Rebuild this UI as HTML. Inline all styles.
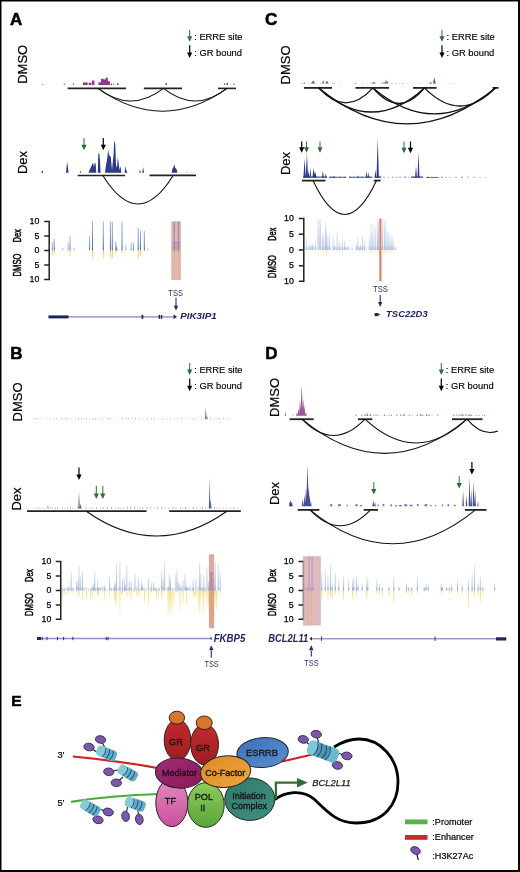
<!DOCTYPE html><html><head><meta charset="utf-8"><style>html,body{margin:0;padding:0;background:#fff;overflow:hidden;}svg{display:block;font-family:"Liberation Sans", sans-serif;will-change:transform;}</style></head><body>
<svg width="520" height="872" viewBox="0 0 520 872">
<rect x="0" y="0" width="520" height="872" fill="#000"/>
<rect x="1.5" y="1.5" width="516.5" height="868.5" fill="#fff"/>
<text x="10.1" y="25.2" font-size="17" font-weight="bold" font-style="normal" text-anchor="start" fill="#000" stroke="#000" stroke-width="0.55">A</text>
<line x1="189.7" y1="29.799999999999997" x2="189.7" y2="36.8" stroke="#2f6c30" stroke-width="1.0"/><path d="M187.1,36.3 L192.29999999999998,36.3 L189.7,41.8 Z" fill="#2f6c30"/><line x1="189.7" y1="45.3" x2="189.7" y2="53.0" stroke="#000" stroke-width="1.2"/><path d="M187.1,52.5 L192.29999999999998,52.5 L189.7,58.0 Z" fill="#000"/><text x="194.2" y="39.8" font-size="9.35" font-weight="normal" font-style="normal" text-anchor="start" fill="#000" stroke="#000" stroke-width="0.15">: ERRE site</text><text x="194.2" y="55.8" font-size="9.35" font-weight="normal" font-style="normal" text-anchor="start" fill="#000" stroke="#000" stroke-width="0.15">: GR bound</text>
<text transform="translate(27,64.3) rotate(-90) scale(1.0,1)" font-size="13" text-anchor="middle" fill="#000" stroke="#000" stroke-width="0.2">DMSO</text>
<text transform="translate(27,162.5) rotate(-90) scale(1.0,1)" font-size="13" text-anchor="middle" fill="#000" stroke="#000" stroke-width="0.2">Dex</text>
<path d="M42.30,84.90V84.00H43.30V84.90ZM63.80,84.90V83.60H64.80V84.90ZM72.80,84.90V83.60H73.80V84.90ZM82.90,84.90V82.60H87.70V84.90ZM88.60,84.90V82.80H91.30V84.90ZM91.90,84.90V80.40H94.40V84.90ZM98.40,84.90V82.30H101.00V84.90ZM101.00,84.90V78.80H103.50V84.90ZM103.50,84.90V79.60H105.60V84.90ZM105.60,84.90V77.80H107.80V84.90ZM107.80,84.90V81.20H110.00V84.90ZM111.00,84.90V83.60H112.00V84.90ZM113.20,84.90V83.80H114.20V84.90ZM117.00,84.90V83.30H118.50V84.90ZM165.50,84.90V83.00H167.00V84.90ZM224.00,84.90V83.50H225.00V84.90ZM226.50,84.90V83.00H228.00V84.90ZM233.50,84.90V83.50H234.50V84.90Z" fill="#8a3a8c" fill-opacity="1"/>
<line x1="67.7" y1="88.4" x2="126" y2="88.4" stroke="#222" stroke-width="1.6"/>
<line x1="143.8" y1="88.4" x2="182" y2="88.4" stroke="#222" stroke-width="1.6"/>
<line x1="218" y1="88.4" x2="236" y2="88.4" stroke="#222" stroke-width="1.6"/>
<path d="M98,88.4 Q130.75,113.60 163.5,88.4" fill="none" stroke="#111" stroke-width="1.1"/>
<path d="M163.5,88.4 Q195.25,113.60 227,88.4" fill="none" stroke="#111" stroke-width="1.1"/>
<path d="M98,88.4 Q162.50,134.00 227,88.4" fill="none" stroke="#111" stroke-width="1.1"/>
<path d="M41.15,172.80L42.25,170.00L43.35,172.80ZM65.95,172.80L67.25,161.50L68.55,172.80ZM79.70,172.80L80.40,170.50L81.10,172.80ZM139.20,172.80L140.00,169.40L140.80,172.80ZM142.20,172.80L143.10,166.90L144.00,172.80ZM186.50,172.80L187.00,171.80L187.50,172.80ZM193.50,172.80L194.00,171.80L194.50,172.80Z" fill="#2b3a8a" fill-opacity="1"/>
<path d="M88.60,172.80L88.60,172.70L89.50,170.00L91.50,166.00L92.50,163.00L93.30,164.00L94.00,167.00L94.80,162.20L95.60,163.50L96.30,172.70L97.80,172.70L98.30,154.00L99.20,152.80L100.00,160.00L100.60,172.70L105.00,172.70L105.50,168.00L107.00,160.00L108.30,149.50L109.00,155.00L110.00,156.00L110.80,157.00L111.50,165.00L112.00,170.00L113.50,155.00L114.30,140.00L115.30,145.00L116.00,165.00L117.00,168.00L117.80,157.00L118.50,162.00L119.50,170.00L120.50,166.00L121.30,172.70L121.30,172.80Z" fill="#2b3a8a" fill-opacity="1"/>
<path d="M124.50,172.80L124.50,172.70L125.30,166.00L126.00,170.00L127.50,172.70L127.50,172.80Z" fill="#2b3a8a" fill-opacity="1"/>
<path d="M171.50,172.80L171.50,172.70L172.50,168.50L173.60,167.00L174.40,164.00L175.20,168.00L176.50,169.00L177.50,172.70L177.50,172.80Z" fill="#2b3a8a" fill-opacity="1"/>
<line x1="84" y1="138" x2="84" y2="145.2" stroke="#2f6c30" stroke-width="1.0"/><path d="M81.4,144.7 L86.6,144.7 L84,150.2 Z" fill="#2f6c30"/>
<line x1="103.3" y1="138" x2="103.3" y2="145.2" stroke="#000" stroke-width="1.2"/><path d="M100.7,144.7 L105.89999999999999,144.7 L103.3,150.2 Z" fill="#000"/>
<line x1="77.7" y1="175.5" x2="125" y2="175.5" stroke="#222" stroke-width="1.7"/>
<line x1="149.5" y1="175.3" x2="196" y2="175.3" stroke="#222" stroke-width="1.7"/>
<path d="M103,175.8 Q138.00,232.20 173,175.8" fill="none" stroke="#111" stroke-width="1.1"/>
<defs><linearGradient id="gb" x1="0" y1="0" x2="0" y2="1"><stop offset="0" stop-color="#9fb4dc"/><stop offset="0.6" stop-color="#6f8cc4"/><stop offset="1" stop-color="#3f5fa6"/></linearGradient><linearGradient id="gbl" x1="0" y1="0" x2="0" y2="1"><stop offset="0" stop-color="#dfe7f4"/><stop offset="1" stop-color="#a3b7de"/></linearGradient><linearGradient id="gbB" x1="0" y1="0" x2="0" y2="1"><stop offset="0" stop-color="#d8e2f2"/><stop offset="1" stop-color="#90a8d6"/></linearGradient><linearGradient id="gy2" x1="0" y1="0" x2="0" y2="1"><stop offset="0" stop-color="#f2d860"/><stop offset="1" stop-color="#faf2c8"/></linearGradient><linearGradient id="gy" x1="0" y1="0" x2="0" y2="1"><stop offset="0" stop-color="#e9c13a"/><stop offset="1" stop-color="#f6e6a0"/></linearGradient></defs>
<path d="M44.2,221.5 H49.2 V279.6 H44.2" fill="none" stroke="#222" stroke-width="1.5"/><text x="39.4" y="224.1" font-size="8.8" font-weight="normal" font-style="normal" text-anchor="end" fill="#000" stroke="#000" stroke-width="0.25">10</text><line x1="44.2" y1="236.0" x2="49.2" y2="236.0" stroke="#222" stroke-width="1.5"/><text x="39.4" y="238.6" font-size="8.8" font-weight="normal" font-style="normal" text-anchor="end" fill="#000" stroke="#000" stroke-width="0.25">5</text><line x1="44.2" y1="250.5" x2="49.2" y2="250.5" stroke="#222" stroke-width="1.5"/><text x="39.4" y="253.1" font-size="8.8" font-weight="normal" font-style="normal" text-anchor="end" fill="#000" stroke="#000" stroke-width="0.25">0</text><line x1="44.2" y1="265.0" x2="49.2" y2="265.0" stroke="#222" stroke-width="1.5"/><text x="39.4" y="267.6" font-size="8.8" font-weight="normal" font-style="normal" text-anchor="end" fill="#000" stroke="#000" stroke-width="0.25">5</text><text x="39.4" y="282.1" font-size="8.8" font-weight="normal" font-style="normal" text-anchor="end" fill="#000" stroke="#000" stroke-width="0.25">10</text><text transform="translate(20.8,235.7) rotate(-90) scale(0.62,1)" font-size="11.8" text-anchor="middle" fill="#000" stroke="#000" stroke-width="0.5">Dex</text><text transform="translate(20.8,265) rotate(-90) scale(0.645,1)" font-size="11.8" text-anchor="middle" fill="#000" stroke="#000" stroke-width="0.5">DMSO</text>
<rect x="51.80" y="241.80" width="1.0" height="8.70" fill="url(#gb)" fill-opacity="0.8"/><rect x="51.80" y="250.50" width="1.0" height="5.80" fill="url(#gy)" fill-opacity="0.8"/><rect x="53.70" y="238.90" width="1.0" height="11.60" fill="url(#gb)" fill-opacity="1.0"/><rect x="53.70" y="250.50" width="1.0" height="3.48" fill="url(#gy)" fill-opacity="1.0"/><rect x="62.20" y="247.60" width="1.0" height="2.90" fill="url(#gb)" fill-opacity="0.6"/><rect x="67.50" y="241.80" width="1.0" height="8.70" fill="url(#gb)" fill-opacity="0.6"/><rect x="69.50" y="236.00" width="1.0" height="14.50" fill="url(#gb)" fill-opacity="0.9"/><rect x="69.50" y="250.50" width="1.0" height="5.80" fill="url(#gy)" fill-opacity="0.9"/><rect x="73.70" y="247.60" width="1.0" height="2.90" fill="url(#gb)" fill-opacity="0.6"/><rect x="89.10" y="236.00" width="1.0" height="14.50" fill="url(#gb)" fill-opacity="0.9"/><rect x="92.00" y="221.50" width="1.0" height="29.00" fill="url(#gb)" fill-opacity="1.0"/><rect x="92.00" y="250.50" width="1.0" height="8.70" fill="url(#gy)" fill-opacity="1.0"/><rect x="102.80" y="221.50" width="1.0" height="29.00" fill="url(#gb)" fill-opacity="1.0"/><rect x="102.80" y="250.50" width="1.0" height="8.70" fill="url(#gy)" fill-opacity="1.0"/><rect x="109.90" y="221.50" width="1.0" height="29.00" fill="url(#gb)" fill-opacity="1.0"/><rect x="109.90" y="250.50" width="1.0" height="8.70" fill="url(#gy)" fill-opacity="1.0"/><rect x="111.80" y="221.50" width="1.0" height="29.00" fill="url(#gb)" fill-opacity="1.0"/><rect x="111.80" y="250.50" width="1.0" height="8.70" fill="url(#gy)" fill-opacity="1.0"/><rect x="115.30" y="241.80" width="1.0" height="8.70" fill="url(#gb)" fill-opacity="1.0"/><rect x="115.30" y="250.50" width="1.0" height="2.90" fill="url(#gy)" fill-opacity="1.0"/><rect x="116.30" y="246.15" width="1.0" height="4.35" fill="url(#gb)" fill-opacity="1.0"/><rect x="121.50" y="221.50" width="1.0" height="29.00" fill="url(#gb)" fill-opacity="1.0"/><rect x="121.50" y="250.50" width="1.0" height="2.90" fill="url(#gy)" fill-opacity="1.0"/><rect x="125.30" y="244.70" width="1.0" height="5.80" fill="url(#gb)" fill-opacity="0.7"/><rect x="130.70" y="242.38" width="1.0" height="8.12" fill="url(#gb)" fill-opacity="0.8"/><rect x="133.00" y="242.38" width="1.0" height="8.12" fill="url(#gb)" fill-opacity="0.8"/><rect x="137.70" y="227.88" width="1.0" height="22.62" fill="url(#gb)" fill-opacity="1.0"/><rect x="137.70" y="250.50" width="1.0" height="8.70" fill="url(#gy)" fill-opacity="1.0"/><rect x="140.00" y="230.78" width="1.0" height="19.72" fill="url(#gb)" fill-opacity="1.0"/><rect x="140.00" y="250.50" width="1.0" height="5.80" fill="url(#gy)" fill-opacity="1.0"/><rect x="143.80" y="230.78" width="1.0" height="19.72" fill="url(#gb)" fill-opacity="1.0"/><rect x="147.50" y="247.89" width="1.0" height="2.61" fill="url(#gb)" fill-opacity="0.5"/>
<rect x="171.2" y="221.5" width="9.8" height="58.5" fill="#d8a49c" fill-opacity="0.78"/>
<path d="M173.4,221.5 H175.2 L174.8,250.5 H173.8Z M177.6,221.5 H179.4 L179,250.5 H178Z" fill="#7870a8" fill-opacity="0.55"/>
<rect x="172.5" y="241" width="7.5" height="9.5" fill="#8a78a8" fill-opacity="0.35"/>
<path d="M173.6,250.5 H175 L174.5,280 H174.1Z M177.8,250.5 H179.2 L178.7,280 H178.3Z" fill="#e8a848" fill-opacity="0.4"/>
<text x="175.7" y="296.1" font-size="9.2" font-weight="normal" font-style="normal" text-anchor="middle" fill="#2c3068" textLength="14.7" lengthAdjust="spacingAndGlyphs">TSS</text>
<line x1="176" y1="297.7" x2="176" y2="306.3" stroke="#23295e" stroke-width="1.1"/><path d="M173.8,305.8 L178.2,305.8 L176,310.6 Z" fill="#23295e"/>
<line x1="48.5" y1="316.8" x2="175" y2="316.8" stroke="#a6a8d0" stroke-width="1.7"/>
<rect x="48.5" y="315.4" width="20" height="3" fill="#1f2560"/>
<rect x="141.5" y="314.8" width="1.8" height="4" fill="#1f2560"/>
<rect x="158.6" y="314.8" width="1.4" height="4" fill="#1f2560"/><rect x="160.8" y="314.8" width="1.4" height="4" fill="#1f2560"/>
<path d="M173.6,314.4 L177,316.8 L173.6,319.2Z" fill="#1f2560"/>
<text x="180.3" y="319" font-size="9.5" font-weight="bold" font-style="italic" text-anchor="start" fill="#1f2560" textLength="36.3" lengthAdjust="spacingAndGlyphs">PIK3IP1</text>
<text x="265.1" y="25.2" font-size="17" font-weight="bold" font-style="normal" text-anchor="start" fill="#000" stroke="#000" stroke-width="0.55">C</text>
<line x1="442" y1="29.799999999999997" x2="442" y2="36.8" stroke="#2f6c30" stroke-width="1.0"/><path d="M439.4,36.3 L444.6,36.3 L442,41.8 Z" fill="#2f6c30"/><line x1="442" y1="45.3" x2="442" y2="53.0" stroke="#000" stroke-width="1.2"/><path d="M439.4,52.5 L444.6,52.5 L442,58.0 Z" fill="#000"/><text x="446.5" y="39.8" font-size="9.35" font-weight="normal" font-style="normal" text-anchor="start" fill="#000" stroke="#000" stroke-width="0.15">: ERRE site</text><text x="446.5" y="55.8" font-size="9.35" font-weight="normal" font-style="normal" text-anchor="start" fill="#000" stroke="#000" stroke-width="0.15">: GR bound</text>
<text transform="translate(290,65) rotate(-90) scale(1.0,1)" font-size="13" text-anchor="middle" fill="#000" stroke="#000" stroke-width="0.2">DMSO</text>
<text transform="translate(290,163.5) rotate(-90) scale(1.0,1)" font-size="13" text-anchor="middle" fill="#000" stroke="#000" stroke-width="0.2">Dex</text>
<path d="M301.40,83.60L302.20,82.80L303.00,83.60ZM303.60,83.60L304.50,82.00L305.40,83.60ZM308.60,83.60L309.20,82.80L309.80,83.60ZM311.00,83.60L313.20,80.50L315.40,83.60ZM319.90,83.60L320.50,82.80L321.10,83.60ZM322.10,83.60L323.10,79.80L324.10,83.60ZM325.20,83.60L327.00,80.80L328.80,83.60ZM331.10,83.60L333.30,83.00L335.50,83.60ZM339.00,83.60L339.50,83.00L340.00,83.60ZM354.30,83.60L355.50,82.80L356.70,83.60ZM362.00,83.60L362.50,83.00L363.00,83.60ZM367.20,83.60L367.70,83.00L368.20,83.60ZM371.00,83.60L373.70,82.00L376.40,83.60ZM380.70,83.60L381.50,82.50L382.30,83.60ZM383.00,83.60L384.00,81.50L385.00,83.60ZM385.00,83.60L386.00,79.20L387.00,83.60ZM386.60,83.60L387.50,81.00L388.40,83.60ZM390.80,83.60L392.00,83.00L393.20,83.60ZM395.00,83.60L396.00,83.00L397.00,83.60ZM401.70,83.60L402.60,82.80L403.50,83.60ZM412.80,83.60L413.50,83.00L414.20,83.60ZM419.20,83.60L420.00,83.00L420.80,83.60ZM428.70,83.60L430.50,82.00L432.30,83.60ZM432.80,83.60L434.30,77.20L435.80,83.60ZM444.40,83.60L445.00,83.00L445.60,83.60ZM449.40,83.60L450.00,83.00L450.60,83.60ZM453.50,83.60L454.00,83.00L454.50,83.60Z" fill="#8a3a8c" fill-opacity="0.95"/>
<line x1="304" y1="87.9" x2="332" y2="87.9" stroke="#222" stroke-width="1.8"/>
<line x1="355.5" y1="87.9" x2="389" y2="87.9" stroke="#222" stroke-width="1.8"/>
<line x1="413" y1="87.9" x2="436.6" y2="87.9" stroke="#222" stroke-width="1.8"/>
<line x1="492.5" y1="87.9" x2="498.5" y2="87.9" stroke="#222" stroke-width="1.8"/>
<path d="M318.7,87.9 Q345.85,117.70 373,87.9" fill="none" stroke="#111" stroke-width="1.3"/>
<path d="M373,87.9 Q398.75,119.10 424.5,87.9" fill="none" stroke="#111" stroke-width="1.3"/>
<path d="M424.5,87.9 Q460.00,124.10 495.5,87.9" fill="none" stroke="#111" stroke-width="1.3"/>
<path d="M318.7,87.9 Q371.60,136.10 424.5,87.9" fill="none" stroke="#111" stroke-width="1.3"/>
<path d="M373,87.9 Q434.25,139.70 495.5,87.9" fill="none" stroke="#111" stroke-width="1.3"/>
<path d="M318.7,87.9 Q407.10,159.70 495.5,87.9" fill="none" stroke="#111" stroke-width="1.3"/>
<path d="M303.40,177.80L304.60,158.80L305.80,177.80ZM305.70,177.80L306.90,153.00L308.10,177.80ZM307.70,177.80L308.50,170.00L309.30,177.80ZM309.50,177.80L310.40,168.00L311.30,177.80ZM312.40,177.80L313.50,168.00L314.60,177.80ZM313.40,177.80L315.00,171.00L316.60,177.80ZM321.90,177.80L322.90,170.80L323.90,177.80ZM325.00,177.80L325.80,173.00L326.60,177.80ZM330.00,177.80L331.00,176.00L332.00,177.80ZM332.80,177.80L334.00,175.80L335.20,177.80ZM339.20,177.80L340.00,176.50L340.80,177.80ZM344.20,177.80L345.00,176.30L345.80,177.80ZM349.20,177.80L350.00,175.80L350.80,177.80ZM353.40,177.80L354.00,176.50L354.60,177.80ZM357.10,177.80L358.00,175.30L358.90,177.80ZM361.20,177.80L362.00,176.00L362.80,177.80ZM365.60,177.80L366.50,171.30L367.40,177.80ZM367.50,177.80L368.30,172.00L369.10,177.80ZM369.40,177.80L370.00,175.00L370.60,177.80ZM374.50,177.80L375.40,169.40L376.30,177.80ZM376.50,177.80L377.70,138.10L378.90,177.80ZM379.40,177.80L380.00,175.00L380.60,177.80ZM383.40,177.80L384.00,176.50L384.60,177.80ZM387.50,177.80L388.00,176.80L388.50,177.80ZM392.40,177.80L393.00,176.30L393.60,177.80ZM396.50,177.80L397.00,176.50L397.50,177.80ZM399.40,177.80L400.00,176.00L400.60,177.80ZM404.30,177.80L405.00,175.80L405.70,177.80ZM408.50,177.80L409.00,176.50L409.50,177.80ZM412.40,177.80L413.00,176.00L413.60,177.80ZM415.00,177.80L416.00,166.00L417.00,177.80ZM417.50,177.80L418.50,152.00L419.50,177.80ZM420.40,177.80L421.00,176.00L421.60,177.80ZM427.10,177.80L428.00,176.00L428.90,177.80ZM431.30,177.80L432.00,176.30L432.70,177.80ZM435.40,177.80L436.00,176.50L436.60,177.80ZM441.20,177.80L442.00,176.20L442.80,177.80ZM445.40,177.80L446.00,176.60L446.60,177.80ZM449.40,177.80L450.00,176.40L450.60,177.80ZM455.40,177.80L456.00,176.60L456.60,177.80ZM461.20,177.80L462.00,176.30L462.80,177.80ZM467.50,177.80L468.00,176.60L468.50,177.80ZM473.40,177.80L474.00,176.50L474.60,177.80ZM479.50,177.80L480.00,176.70L480.50,177.80ZM485.50,177.80L486.00,176.70L486.50,177.80Z" fill="#2b3a8a" fill-opacity="1"/>
<path d="M303.00,177.80V176.60H327.00V177.80ZM329.00,177.80V176.70H346.00V177.80ZM349.50,177.80V176.80H372.50V177.80ZM375.00,177.80V176.60H381.00V177.80ZM411.00,177.80V176.60H423.00V177.80ZM426.00,177.80V177.00H439.00V177.80Z" fill="#2b3a8a" fill-opacity="0.85"/>
<line x1="301.7" y1="141.5" x2="301.7" y2="147.7" stroke="#000" stroke-width="1.2"/><path d="M299.09999999999997,147.2 L304.3,147.2 L301.7,152.7 Z" fill="#000"/>
<line x1="306.5" y1="141.5" x2="306.5" y2="147.7" stroke="#2f6c30" stroke-width="1.0"/><path d="M303.9,147.2 L309.1,147.2 L306.5,152.7 Z" fill="#2f6c30"/>
<line x1="320" y1="141.5" x2="320" y2="147.7" stroke="#2f6c30" stroke-width="1.0"/><path d="M317.4,147.2 L322.6,147.2 L320,152.7 Z" fill="#2f6c30"/>
<line x1="404" y1="141.5" x2="404" y2="148.2" stroke="#2f6c30" stroke-width="1.0"/><path d="M401.4,147.7 L406.6,147.7 L404,153.2 Z" fill="#2f6c30"/>
<line x1="410.5" y1="141.5" x2="410.5" y2="148.2" stroke="#000" stroke-width="1.2"/><path d="M407.9,147.7 L413.1,147.7 L410.5,153.2 Z" fill="#000"/>
<line x1="302" y1="180.6" x2="325.5" y2="180.6" stroke="#222" stroke-width="1.8"/>
<line x1="373.8" y1="180.6" x2="380.6" y2="180.6" stroke="#222" stroke-width="1.8"/>
<path d="M313,180.6 Q344.75,248.40 376.5,180.6" fill="none" stroke="#111" stroke-width="1.1"/>
<text x="10.3" y="358.9" font-size="17" font-weight="bold" font-style="normal" text-anchor="start" fill="#000" stroke="#000" stroke-width="0.55">B</text>
<line x1="189.7" y1="363" x2="189.7" y2="370.0" stroke="#2f6c30" stroke-width="1.0"/><path d="M187.1,369.5 L192.29999999999998,369.5 L189.7,375 Z" fill="#2f6c30"/><line x1="189.7" y1="378.5" x2="189.7" y2="386.2" stroke="#000" stroke-width="1.2"/><path d="M187.1,385.7 L192.29999999999998,385.7 L189.7,391.2 Z" fill="#000"/><text x="194.2" y="373" font-size="9.35" font-weight="normal" font-style="normal" text-anchor="start" fill="#000" stroke="#000" stroke-width="0.15">: ERRE site</text><text x="194.2" y="389" font-size="9.35" font-weight="normal" font-style="normal" text-anchor="start" fill="#000" stroke="#000" stroke-width="0.15">: GR bound</text>
<text transform="translate(21.5,402) rotate(-90) scale(1.0,1)" font-size="13" text-anchor="middle" fill="#000" stroke="#000" stroke-width="0.2">DMSO</text>
<text transform="translate(21.4,499) rotate(-90) scale(1.0,1)" font-size="13" text-anchor="middle" fill="#000" stroke="#000" stroke-width="0.2">Dex</text>
<path d="M33.50,419.20L34.00,418.28L34.50,419.20ZM35.88,419.20L36.38,417.85L36.88,419.20ZM38.06,419.20L38.56,418.00L39.06,419.20ZM40.97,419.20L41.47,418.62L41.97,419.20ZM44.24,419.20L44.74,418.65L45.24,419.20ZM47.33,419.20L47.83,418.61L48.33,419.20ZM49.55,419.20L50.05,418.15L50.55,419.20ZM53.62,419.20L54.12,418.54L54.62,419.20ZM56.18,419.20L56.68,417.88L57.18,419.20ZM60.55,419.20L61.05,417.95L61.55,419.20ZM63.54,419.20L64.04,417.43L64.54,419.20ZM65.65,419.20L66.15,417.58L66.65,419.20ZM68.38,419.20L68.88,418.51L69.38,419.20ZM70.67,419.20L71.17,418.30L71.67,419.20ZM74.71,419.20L75.21,418.47L75.71,419.20ZM78.17,419.20L78.67,417.87L79.17,419.20ZM81.10,419.20L81.60,417.99L82.10,419.20ZM83.26,419.20L83.76,418.62L84.26,419.20ZM85.77,419.20L86.27,417.82L86.77,419.20ZM88.84,419.20L89.34,418.29L89.84,419.20ZM92.30,419.20L92.80,418.11L93.30,419.20ZM95.05,419.20L95.55,417.67L96.05,419.20ZM98.80,419.20L99.30,418.38L99.80,419.20ZM102.24,419.20L102.74,418.02L103.24,419.20ZM106.42,419.20L106.92,417.75L107.42,419.20ZM109.14,419.20L109.64,417.43L110.14,419.20ZM111.44,419.20L111.94,418.16L112.44,419.20ZM115.33,419.20L115.83,418.50L116.33,419.20ZM118.55,419.20L119.05,418.65L119.55,419.20ZM122.22,419.20L122.72,417.71L123.22,419.20ZM125.66,419.20L126.16,417.56L126.66,419.20ZM128.44,419.20L128.94,417.80L129.44,419.20ZM131.93,419.20L132.43,417.95L132.93,419.20ZM135.07,419.20L135.57,417.61L136.07,419.20ZM139.43,419.20L139.93,418.08L140.43,419.20ZM143.09,419.20L143.59,418.62L144.09,419.20ZM146.84,419.20L147.34,417.86L147.84,419.20ZM151.33,419.20L151.83,417.63L152.33,419.20ZM154.04,419.20L154.54,418.20L155.04,419.20ZM157.71,419.20L158.21,418.67L158.71,419.20ZM160.86,419.20L161.36,418.48L161.86,419.20ZM163.16,419.20L163.66,418.62L164.16,419.20ZM167.08,419.20L167.58,418.53L168.08,419.20ZM169.70,419.20L170.20,418.19L170.70,419.20ZM173.87,419.20L174.37,418.60L174.87,419.20ZM177.00,419.20L177.50,417.99L178.00,419.20ZM181.21,419.20L181.71,417.63L182.21,419.20ZM185.37,419.20L185.87,418.34L186.37,419.20ZM188.40,419.20L188.90,418.23L189.40,419.20ZM192.62,419.20L193.12,417.45L193.62,419.20ZM194.99,419.20L195.49,418.47L195.99,419.20ZM197.57,419.20L198.07,418.40L198.57,419.20ZM200.78,419.20L201.28,417.93L201.78,419.20ZM203.44,419.20L203.94,418.69L204.44,419.20ZM206.49,419.20L206.99,418.22L207.49,419.20ZM209.90,419.20L210.40,417.46L210.90,419.20ZM213.63,419.20L214.13,418.03L214.63,419.20ZM217.17,419.20L217.67,417.82L218.17,419.20ZM219.31,419.20L219.81,417.53L220.31,419.20ZM223.26,419.20L223.76,417.56L224.26,419.20ZM227.25,419.20L227.75,418.19L228.25,419.20ZM230.25,419.20L230.75,418.57L231.25,419.20ZM204.80,419.20L205.70,407.40L206.60,419.20ZM206.20,419.20L207.00,415.00L207.80,419.20Z" fill="#8a3a8c" fill-opacity="0.75"/>
<path d="M33.50,508.40L34.00,507.79L34.50,508.40ZM35.67,508.40L36.17,507.55L36.67,508.40ZM38.07,508.40L38.57,507.32L39.07,508.40ZM40.21,508.40L40.71,507.90L41.21,508.40ZM42.58,508.40L43.08,507.73L43.58,508.40ZM45.49,508.40L45.99,507.86L46.49,508.40ZM49.68,508.40L50.18,506.86L50.68,508.40ZM52.05,508.40L52.55,507.47L53.05,508.40ZM54.92,508.40L55.42,507.28L55.92,508.40ZM57.23,508.40L57.73,506.46L58.23,508.40ZM61.71,508.40L62.21,507.11L62.71,508.40ZM64.92,508.40L65.42,507.75L65.92,508.40ZM67.17,508.40L67.67,507.32L68.17,508.40ZM69.84,508.40L70.34,506.49L70.84,508.40ZM72.24,508.40L72.74,507.86L73.24,508.40ZM76.62,508.40L77.12,507.00L77.62,508.40ZM78.98,508.40L79.48,506.98L79.98,508.40ZM81.05,508.40L81.55,507.00L82.05,508.40ZM85.50,508.40L86.00,506.43L86.50,508.40ZM89.24,508.40L89.74,507.46L90.24,508.40ZM92.15,508.40L92.65,507.62L93.15,508.40ZM96.08,508.40L96.58,506.99L97.08,508.40ZM100.03,508.40L100.53,507.34L101.03,508.40ZM102.59,508.40L103.09,506.52L103.59,508.40ZM107.05,508.40L107.55,506.45L108.05,508.40ZM111.07,508.40L111.57,506.51L112.07,508.40ZM114.92,508.40L115.42,507.51L115.92,508.40ZM118.21,508.40L118.71,507.30L119.21,508.40ZM120.28,508.40L120.78,507.85L121.28,508.40ZM122.98,508.40L123.48,507.46L123.98,508.40ZM126.71,508.40L127.21,506.27L127.71,508.40ZM129.83,508.40L130.33,506.31L130.83,508.40ZM134.30,508.40L134.80,506.28L135.30,508.40ZM137.21,508.40L137.71,507.53L138.21,508.40ZM139.78,508.40L140.28,507.57L140.78,508.40ZM142.29,508.40L142.79,506.84L143.29,508.40ZM146.54,508.40L147.04,506.47L147.54,508.40ZM149.74,508.40L150.24,506.79L150.74,508.40ZM153.74,508.40L154.24,507.76L154.74,508.40ZM157.39,508.40L157.89,506.35L158.39,508.40ZM161.35,508.40L161.85,506.62L162.35,508.40ZM164.54,508.40L165.04,507.60L165.54,508.40ZM168.51,508.40L169.01,507.33L169.51,508.40ZM172.52,508.40L173.02,506.25L173.52,508.40ZM175.51,508.40L176.01,507.22L176.51,508.40ZM179.87,508.40L180.37,506.67L180.87,508.40ZM182.30,508.40L182.80,507.68L183.30,508.40ZM184.68,508.40L185.18,506.36L185.68,508.40ZM188.69,508.40L189.19,507.65L189.69,508.40ZM192.76,508.40L193.26,506.23L193.76,508.40ZM196.40,508.40L196.90,507.30L197.40,508.40ZM199.77,508.40L200.27,507.68L200.77,508.40ZM201.81,508.40L202.31,506.25L202.81,508.40ZM205.43,508.40L205.93,507.00L206.43,508.40ZM209.77,508.40L210.27,507.16L210.77,508.40ZM213.95,508.40L214.45,506.50L214.95,508.40ZM216.47,508.40L216.97,507.47L217.47,508.40ZM219.21,508.40L219.71,507.49L220.21,508.40ZM222.67,508.40L223.17,507.46L223.67,508.40ZM225.72,508.40L226.22,507.68L226.72,508.40ZM229.99,508.40L230.49,507.30L230.99,508.40ZM233.14,508.40L233.64,506.91L234.14,508.40ZM237.40,508.40L237.90,507.18L238.40,508.40ZM78.20,508.40L79.00,491.70L79.80,508.40ZM79.70,508.40L80.50,503.00L81.30,508.40ZM47.50,508.40L48.00,504.50L48.50,508.40ZM208.80,508.40L209.60,478.00L210.40,508.40ZM209.60,508.40L210.60,500.00L211.60,508.40Z" fill="#2b3a8a" fill-opacity="0.8"/>
<line x1="79" y1="467.4" x2="79" y2="475.1" stroke="#000" stroke-width="1.2"/><path d="M76.4,474.6 L81.6,474.6 L79,480.1 Z" fill="#000"/>
<line x1="96.3" y1="485.8" x2="96.3" y2="494.1" stroke="#2f6c30" stroke-width="1.0"/><path d="M93.7,493.6 L98.89999999999999,493.6 L96.3,499.1 Z" fill="#2f6c30"/>
<line x1="102.8" y1="485.8" x2="102.8" y2="494.1" stroke="#2f6c30" stroke-width="1.0"/><path d="M100.2,493.6 L105.39999999999999,493.6 L102.8,499.1 Z" fill="#2f6c30"/>
<line x1="27" y1="511.2" x2="146.6" y2="511.2" stroke="#222" stroke-width="1.8"/>
<line x1="169.2" y1="511.2" x2="240.8" y2="511.2" stroke="#222" stroke-width="1.8"/>
<path d="M86.3,511.2 Q156.60,560.80 226.9,511.2" fill="none" stroke="#111" stroke-width="1.1"/>
<text x="265.2" y="358.7" font-size="17" font-weight="bold" font-style="normal" text-anchor="start" fill="#000" stroke="#000" stroke-width="0.55">D</text>
<line x1="441.3" y1="363" x2="441.3" y2="370.0" stroke="#2f6c30" stroke-width="1.0"/><path d="M438.7,369.5 L443.90000000000003,369.5 L441.3,375 Z" fill="#2f6c30"/><line x1="441.3" y1="378.5" x2="441.3" y2="386.2" stroke="#000" stroke-width="1.2"/><path d="M438.7,385.7 L443.90000000000003,385.7 L441.3,391.2 Z" fill="#000"/><text x="445.8" y="373" font-size="9.35" font-weight="normal" font-style="normal" text-anchor="start" fill="#000" stroke="#000" stroke-width="0.15">: ERRE site</text><text x="445.8" y="389" font-size="9.35" font-weight="normal" font-style="normal" text-anchor="start" fill="#000" stroke="#000" stroke-width="0.15">: GR bound</text>
<text transform="translate(279,397.5) rotate(-90) scale(1.0,1)" font-size="13" text-anchor="middle" fill="#000" stroke="#000" stroke-width="0.2">DMSO</text>
<text transform="translate(279,493.5) rotate(-90) scale(1.0,1)" font-size="13" text-anchor="middle" fill="#000" stroke="#000" stroke-width="0.2">Dex</text>
<path d="M284.70,415.80L285.40,411.70L286.10,415.80ZM292.50,415.80L293.00,414.50L293.50,415.80ZM296.10,415.80L297.00,412.00L297.90,415.80ZM297.60,415.80L298.50,408.00L299.40,415.80ZM299.00,415.80L300.00,400.00L301.00,415.80ZM300.40,415.80L301.70,384.80L303.00,415.80ZM302.30,415.80L303.30,398.00L304.30,415.80ZM303.60,415.80L304.50,405.00L305.40,415.80ZM305.20,415.80L306.00,412.00L306.80,415.80ZM355.22,415.80L356.00,414.33L356.78,415.80ZM360.94,415.80L361.70,414.31L362.45,415.80ZM365.29,415.80L366.05,414.79L366.80,415.80ZM370.02,415.80L370.57,413.75L371.11,415.80ZM372.87,415.80L373.78,414.95L374.68,415.80ZM377.56,415.80L378.55,415.03L379.54,415.80ZM383.60,415.80L384.41,413.99L385.22,415.80ZM386.28,415.80L387.04,415.07L387.81,415.80ZM388.66,415.80L389.28,414.78L389.90,415.80ZM390.68,415.80L391.40,414.31L392.12,415.80ZM395.95,415.80L396.77,414.22L397.59,415.80ZM400.04,415.80L400.77,413.97L401.50,415.80ZM402.88,415.80L403.88,413.40L404.88,415.80ZM408.59,415.80L409.24,413.90L409.90,415.80ZM411.63,415.80L412.16,414.61L412.70,415.80ZM416.30,415.80L417.23,414.42L418.15,415.80ZM419.85,415.80L420.77,413.47L421.70,415.80ZM421.82,415.80L422.78,414.74L423.73,415.80ZM425.96,415.80L426.66,413.43L427.35,415.80ZM428.06,415.80L428.95,414.03L429.84,415.80ZM431.36,415.80L432.03,414.95L432.69,415.80ZM437.32,415.80L437.88,413.81L438.44,415.80ZM452.69,415.80L453.41,414.15L454.13,415.80ZM455.61,415.80L456.17,413.86L456.74,415.80ZM460.04,415.80L460.75,414.90L461.46,415.80ZM462.61,415.80L463.60,414.64L464.59,415.80ZM467.87,415.80L468.81,414.58L469.76,415.80ZM470.73,415.80L471.66,414.43L472.58,415.80ZM475.23,415.80L476.22,414.93L477.22,415.80ZM478.19,415.80L479.08,414.66L479.96,415.80ZM481.86,415.80L482.39,414.60L482.93,415.80ZM484.13,415.80L484.75,414.11L485.37,415.80ZM364.40,415.80L365.00,413.00L365.60,415.80ZM366.80,415.80L367.50,412.50L368.20,415.80ZM369.40,415.80L370.00,413.20L370.60,415.80ZM375.40,415.80L376.00,413.60L376.60,415.80ZM458.40,415.80L459.00,413.50L459.60,415.80ZM461.30,415.80L462.00,412.50L462.70,415.80ZM465.40,415.80L466.00,413.00L466.60,415.80ZM469.40,415.80L470.00,413.50L470.60,415.80Z" fill="#8a3a8c" fill-opacity="0.85"/>
<line x1="289.6" y1="419.2" x2="313.7" y2="419.2" stroke="#222" stroke-width="1.8"/>
<line x1="357.9" y1="419.2" x2="372.3" y2="419.2" stroke="#222" stroke-width="1.8"/>
<line x1="452" y1="419.2" x2="482.5" y2="419.2" stroke="#222" stroke-width="1.8"/>
<path d="M302,419.2 Q333.50,451.80 365,419.2" fill="none" stroke="#111" stroke-width="1.1"/>
<path d="M365,419.2 Q416.00,466.80 467,419.2" fill="none" stroke="#111" stroke-width="1.1"/>
<path d="M302,419.2 Q384.50,487.60 467,419.2" fill="none" stroke="#111" stroke-width="1.1"/>
<path d="M467,419.2 Q482,437 498,431" fill="none" stroke="#111" stroke-width="1.1"/>
<path d="M289.00,506.20V502.50H292.30V506.20ZM330.00,506.20V504.36H332.32V506.20ZM337.98,506.20V504.36H340.87V506.20ZM346.59,506.20V504.75H347.84V506.20ZM355.30,506.20V504.14H357.67V506.20ZM359.87,506.20V505.05H361.91V506.20ZM382.61,506.20V504.12H384.31V506.20ZM390.44,506.20V504.28H391.92V506.20ZM395.13,506.20V505.22H397.44V506.20ZM399.14,506.20V505.11H401.91V506.20ZM404.22,506.20V504.18H407.19V506.20ZM409.66,506.20V504.65H412.59V506.20ZM417.05,506.20V504.08H418.62V506.20ZM424.51,506.20V504.15H427.45V506.20ZM430.00,506.20V505.17H431.85V506.20ZM434.73,506.20V504.98H436.05V506.20ZM441.74,506.20V504.45H442.95V506.20ZM447.43,506.20V504.25H449.19V506.20ZM453.84,506.20V504.73H455.61V506.20Z" fill="#2b3a8a" fill-opacity="0.7"/>
<path d="M289.60,506.20L290.60,499.20L291.60,506.20ZM291.40,506.20L292.00,503.00L292.60,506.20ZM301.70,506.20L302.70,499.00L303.70,506.20ZM303.70,506.20L304.60,494.40L305.50,506.20ZM305.10,506.20L306.00,487.70L306.90,506.20ZM306.20,506.20L307.50,464.60L308.80,506.20ZM307.90,506.20L308.80,485.80L309.70,506.20ZM309.00,506.20L309.80,495.00L310.60,506.20ZM310.40,506.20L311.00,501.00L311.60,506.20ZM372.30,506.20L373.30,500.20L374.30,506.20ZM374.20,506.20L375.00,502.00L375.80,506.20ZM377.40,506.20L378.00,503.00L378.60,506.20ZM462.30,506.20L463.10,490.80L463.90,506.20ZM465.70,506.20L466.50,495.40L467.30,506.20ZM468.60,506.20L469.50,476.90L470.40,506.20ZM470.40,506.20L471.20,489.60L472.00,506.20ZM472.60,506.20L473.50,480.40L474.40,506.20ZM474.30,506.20L475.10,489.60L475.90,506.20ZM477.30,506.20L478.00,501.20L478.70,506.20Z" fill="#2b3a8a" fill-opacity="0.9"/>
<line x1="373.8" y1="482" x2="373.8" y2="489.4" stroke="#2f6c30" stroke-width="1.0"/><path d="M371.2,488.9 L376.40000000000003,488.9 L373.8,494.4 Z" fill="#2f6c30"/>
<line x1="459.2" y1="476.2" x2="459.2" y2="483.5" stroke="#2f6c30" stroke-width="1.0"/><path d="M456.59999999999997,483.0 L461.8,483.0 L459.2,488.5 Z" fill="#2f6c30"/>
<line x1="471.9" y1="461.9" x2="471.9" y2="469.6" stroke="#000" stroke-width="1.2"/><path d="M469.29999999999995,469.1 L474.5,469.1 L471.9,474.6 Z" fill="#000"/>
<line x1="297.7" y1="509.9" x2="319.4" y2="509.9" stroke="#222" stroke-width="1.8"/>
<line x1="363.7" y1="509.9" x2="378" y2="509.9" stroke="#222" stroke-width="1.8"/>
<line x1="464.9" y1="509.9" x2="486.6" y2="509.9" stroke="#222" stroke-width="1.8"/>
<path d="M310,509.9 Q340.25,541.70 370.5,509.9" fill="none" stroke="#111" stroke-width="1.1"/>
<path d="M310,509.9 Q392.75,577.70 475.5,509.9" fill="none" stroke="#111" stroke-width="1.1"/>
<path d="M55.75,561.5 H60.75 V619.2 H55.75" fill="none" stroke="#222" stroke-width="1.5"/><text x="51.3" y="564.1" font-size="8.8" font-weight="normal" font-style="normal" text-anchor="end" fill="#000" stroke="#000" stroke-width="0.25">10</text><line x1="55.75" y1="576.0" x2="60.75" y2="576.0" stroke="#222" stroke-width="1.5"/><text x="51.3" y="578.6" font-size="8.8" font-weight="normal" font-style="normal" text-anchor="end" fill="#000" stroke="#000" stroke-width="0.25">5</text><line x1="55.75" y1="590.5" x2="60.75" y2="590.5" stroke="#222" stroke-width="1.5"/><text x="51.3" y="593.1" font-size="8.8" font-weight="normal" font-style="normal" text-anchor="end" fill="#000" stroke="#000" stroke-width="0.25">0</text><line x1="55.75" y1="605.0" x2="60.75" y2="605.0" stroke="#222" stroke-width="1.5"/><text x="51.3" y="607.6" font-size="8.8" font-weight="normal" font-style="normal" text-anchor="end" fill="#000" stroke="#000" stroke-width="0.25">5</text><text x="51.3" y="622.1" font-size="8.8" font-weight="normal" font-style="normal" text-anchor="end" fill="#000" stroke="#000" stroke-width="0.25">10</text><text transform="translate(32.8,575.5) rotate(-90) scale(0.62,1)" font-size="11.8" text-anchor="middle" fill="#000" stroke="#000" stroke-width="0.5">Dex</text><text transform="translate(32.8,604.5) rotate(-90) scale(0.645,1)" font-size="11.8" text-anchor="middle" fill="#000" stroke="#000" stroke-width="0.5">DMSO</text>
<rect x="62.05" y="588.62" width="0.9" height="1.88" fill="url(#gbB)"/><rect x="62.05" y="590.5" width="0.9" height="11.21" fill="url(#gy2)"/><rect x="61.90" y="587.6" width="1.6" height="2.9" fill="#7d98cc" fill-opacity="0.3"/><rect x="63.78" y="588.32" width="0.9" height="2.18" fill="url(#gbB)"/><rect x="63.78" y="590.5" width="0.9" height="5.13" fill="url(#gy2)"/><rect x="63.63" y="587.6" width="1.6" height="2.9" fill="#7d98cc" fill-opacity="0.3"/><rect x="65.70" y="587.6" width="1.6" height="2.9" fill="#7d98cc" fill-opacity="0.3"/><rect x="67.69" y="584.95" width="0.9" height="5.55" fill="url(#gbB)"/><rect x="67.69" y="590.5" width="0.9" height="4.41" fill="url(#gy2)"/><rect x="67.54" y="587.6" width="1.6" height="2.9" fill="#7d98cc" fill-opacity="0.3"/><rect x="68.92" y="587.34" width="0.9" height="3.16" fill="url(#gbB)"/><rect x="70.67" y="571.87" width="0.9" height="18.63" fill="url(#gbB)"/><rect x="70.67" y="590.5" width="0.9" height="2.07" fill="url(#gy2)"/><rect x="70.52" y="587.6" width="1.6" height="2.9" fill="#7d98cc" fill-opacity="0.3"/><rect x="72.12" y="590.5" width="0.9" height="3.33" fill="url(#gy2)"/><rect x="71.97" y="587.6" width="1.6" height="2.9" fill="#7d98cc" fill-opacity="0.3"/><rect x="72.99" y="587.6" width="1.6" height="2.9" fill="#7d98cc" fill-opacity="0.3"/><rect x="76.14" y="581.31" width="0.9" height="9.19" fill="url(#gbB)"/><rect x="76.14" y="590.5" width="0.9" height="3.00" fill="url(#gy2)"/><rect x="77.48" y="580.28" width="0.9" height="10.22" fill="url(#gbB)"/><rect x="77.33" y="587.6" width="1.6" height="2.9" fill="#7d98cc" fill-opacity="0.3"/><rect x="78.52" y="565.09" width="0.9" height="25.41" fill="url(#gbB)"/><rect x="78.52" y="590.5" width="0.9" height="7.93" fill="url(#gy2)"/><rect x="78.37" y="587.6" width="1.6" height="2.9" fill="#7d98cc" fill-opacity="0.3"/><rect x="80.30" y="576.09" width="0.9" height="14.41" fill="url(#gbB)"/><rect x="80.15" y="587.6" width="1.6" height="2.9" fill="#7d98cc" fill-opacity="0.3"/><rect x="82.17" y="571.10" width="0.9" height="19.40" fill="url(#gbB)"/><rect x="82.17" y="590.5" width="0.9" height="9.58" fill="url(#gy2)"/><rect x="82.02" y="587.6" width="1.6" height="2.9" fill="#7d98cc" fill-opacity="0.3"/><rect x="84.22" y="586.92" width="0.9" height="3.58" fill="url(#gbB)"/><rect x="85.98" y="590.5" width="0.9" height="7.57" fill="url(#gy2)"/><rect x="85.83" y="587.6" width="1.6" height="2.9" fill="#7d98cc" fill-opacity="0.3"/><rect x="88.01" y="588.51" width="0.9" height="1.99" fill="url(#gbB)"/><rect x="90.00" y="589.63" width="0.9" height="0.87" fill="url(#gbB)"/><rect x="90.00" y="590.5" width="0.9" height="9.51" fill="url(#gy2)"/><rect x="89.85" y="587.6" width="1.6" height="2.9" fill="#7d98cc" fill-opacity="0.3"/><rect x="91.70" y="585.16" width="0.9" height="5.34" fill="url(#gbB)"/><rect x="91.70" y="590.5" width="0.9" height="7.09" fill="url(#gy2)"/><rect x="91.55" y="587.6" width="1.6" height="2.9" fill="#7d98cc" fill-opacity="0.3"/><rect x="93.00" y="583.51" width="0.9" height="6.99" fill="url(#gbB)"/><rect x="93.00" y="590.5" width="0.9" height="1.77" fill="url(#gy2)"/><rect x="94.31" y="570.96" width="0.9" height="19.54" fill="url(#gbB)"/><rect x="94.16" y="587.6" width="1.6" height="2.9" fill="#7d98cc" fill-opacity="0.3"/><rect x="95.39" y="589.38" width="0.9" height="1.12" fill="url(#gbB)"/><rect x="95.39" y="590.5" width="0.9" height="2.01" fill="url(#gy2)"/><rect x="95.24" y="587.6" width="1.6" height="2.9" fill="#7d98cc" fill-opacity="0.3"/><rect x="97.12" y="580.39" width="0.9" height="10.11" fill="url(#gbB)"/><rect x="97.12" y="590.5" width="0.9" height="4.73" fill="url(#gy2)"/><rect x="98.26" y="587.17" width="0.9" height="3.33" fill="url(#gbB)"/><rect x="98.26" y="590.5" width="0.9" height="5.77" fill="url(#gy2)"/><rect x="98.11" y="587.6" width="1.6" height="2.9" fill="#7d98cc" fill-opacity="0.3"/><rect x="99.74" y="587.44" width="0.9" height="3.06" fill="url(#gbB)"/><rect x="99.59" y="587.6" width="1.6" height="2.9" fill="#7d98cc" fill-opacity="0.3"/><rect x="101.83" y="585.47" width="0.9" height="5.03" fill="url(#gbB)"/><rect x="101.83" y="590.5" width="0.9" height="1.36" fill="url(#gy2)"/><rect x="103.88" y="585.06" width="0.9" height="5.44" fill="url(#gbB)"/><rect x="103.88" y="590.5" width="0.9" height="11.10" fill="url(#gy2)"/><rect x="103.73" y="587.6" width="1.6" height="2.9" fill="#7d98cc" fill-opacity="0.3"/><rect x="105.33" y="587.71" width="0.9" height="2.79" fill="url(#gbB)"/><rect x="107.27" y="590.5" width="0.9" height="1.35" fill="url(#gy2)"/><rect x="109.03" y="576.58" width="0.9" height="13.92" fill="url(#gbB)"/><rect x="109.03" y="590.5" width="0.9" height="5.70" fill="url(#gy2)"/><rect x="108.88" y="587.6" width="1.6" height="2.9" fill="#7d98cc" fill-opacity="0.3"/><rect x="110.82" y="587.82" width="0.9" height="2.68" fill="url(#gbB)"/><rect x="110.67" y="587.6" width="1.6" height="2.9" fill="#7d98cc" fill-opacity="0.3"/><rect x="112.54" y="587.6" width="1.6" height="2.9" fill="#7d98cc" fill-opacity="0.3"/><rect x="113.87" y="582.80" width="0.9" height="7.70" fill="url(#gbB)"/><rect x="113.87" y="590.5" width="0.9" height="10.03" fill="url(#gy2)"/><rect x="113.72" y="587.6" width="1.6" height="2.9" fill="#7d98cc" fill-opacity="0.3"/><rect x="114.91" y="583.33" width="0.9" height="7.17" fill="url(#gbB)"/><rect x="114.91" y="590.5" width="0.9" height="14.54" fill="url(#gy2)"/><rect x="116.16" y="563.59" width="0.9" height="26.91" fill="url(#gbB)"/><rect x="116.16" y="590.5" width="0.9" height="15.51" fill="url(#gy2)"/><rect x="117.79" y="589.14" width="0.9" height="1.36" fill="url(#gbB)"/><rect x="117.64" y="587.6" width="1.6" height="2.9" fill="#7d98cc" fill-opacity="0.3"/><rect x="119.47" y="561.50" width="0.9" height="29.00" fill="url(#gbB)"/><rect x="119.47" y="590.5" width="0.9" height="23.20" fill="url(#gy2)"/><rect x="119.32" y="587.6" width="1.6" height="2.9" fill="#7d98cc" fill-opacity="0.3"/><rect x="120.61" y="590.5" width="0.9" height="4.39" fill="url(#gy2)"/><rect x="121.94" y="577.83" width="0.9" height="12.67" fill="url(#gbB)"/><rect x="121.94" y="590.5" width="0.9" height="4.74" fill="url(#gy2)"/><rect x="121.79" y="587.6" width="1.6" height="2.9" fill="#7d98cc" fill-opacity="0.3"/><rect x="123.88" y="576.63" width="0.9" height="13.87" fill="url(#gbB)"/><rect x="123.88" y="590.5" width="0.9" height="2.34" fill="url(#gy2)"/><rect x="123.73" y="587.6" width="1.6" height="2.9" fill="#7d98cc" fill-opacity="0.3"/><rect x="125.21" y="584.25" width="0.9" height="6.25" fill="url(#gbB)"/><rect x="125.06" y="587.6" width="1.6" height="2.9" fill="#7d98cc" fill-opacity="0.3"/><rect x="126.39" y="564.86" width="0.9" height="25.64" fill="url(#gbB)"/><rect x="126.39" y="590.5" width="0.9" height="8.22" fill="url(#gy2)"/><rect x="127.60" y="588.00" width="0.9" height="2.50" fill="url(#gbB)"/><rect x="128.75" y="579.80" width="0.9" height="10.70" fill="url(#gbB)"/><rect x="128.75" y="590.5" width="0.9" height="6.65" fill="url(#gy2)"/><rect x="128.60" y="587.6" width="1.6" height="2.9" fill="#7d98cc" fill-opacity="0.3"/><rect x="130.62" y="581.03" width="0.9" height="9.47" fill="url(#gbB)"/><rect x="130.62" y="590.5" width="0.9" height="11.00" fill="url(#gy2)"/><rect x="130.47" y="587.6" width="1.6" height="2.9" fill="#7d98cc" fill-opacity="0.3"/><rect x="132.36" y="590.5" width="0.9" height="2.69" fill="url(#gy2)"/><rect x="133.25" y="587.6" width="1.6" height="2.9" fill="#7d98cc" fill-opacity="0.3"/><rect x="134.54" y="572.72" width="0.9" height="17.78" fill="url(#gbB)"/><rect x="134.54" y="590.5" width="0.9" height="1.20" fill="url(#gy2)"/><rect x="136.42" y="587.40" width="0.9" height="3.10" fill="url(#gbB)"/><rect x="136.42" y="590.5" width="0.9" height="7.56" fill="url(#gy2)"/><rect x="137.73" y="576.52" width="0.9" height="13.98" fill="url(#gbB)"/><rect x="137.73" y="590.5" width="0.9" height="3.88" fill="url(#gy2)"/><rect x="139.19" y="590.5" width="0.9" height="7.24" fill="url(#gy2)"/><rect x="139.04" y="587.6" width="1.6" height="2.9" fill="#7d98cc" fill-opacity="0.3"/><rect x="140.96" y="580.81" width="0.9" height="9.69" fill="url(#gbB)"/><rect x="142.23" y="584.74" width="0.9" height="5.76" fill="url(#gbB)"/><rect x="142.08" y="587.6" width="1.6" height="2.9" fill="#7d98cc" fill-opacity="0.3"/><rect x="144.06" y="590.5" width="0.9" height="12.57" fill="url(#gy2)"/><rect x="143.91" y="587.6" width="1.6" height="2.9" fill="#7d98cc" fill-opacity="0.3"/><rect x="145.96" y="588.73" width="0.9" height="1.77" fill="url(#gbB)"/><rect x="147.91" y="578.15" width="0.9" height="12.35" fill="url(#gbB)"/><rect x="147.91" y="590.5" width="0.9" height="18.37" fill="url(#gy2)"/><rect x="149.75" y="590.5" width="0.9" height="5.09" fill="url(#gy2)"/><rect x="149.60" y="587.6" width="1.6" height="2.9" fill="#7d98cc" fill-opacity="0.3"/><rect x="151.03" y="583.07" width="0.9" height="7.43" fill="url(#gbB)"/><rect x="151.03" y="590.5" width="0.9" height="1.96" fill="url(#gy2)"/><rect x="153.00" y="582.58" width="0.9" height="7.92" fill="url(#gbB)"/><rect x="152.85" y="587.6" width="1.6" height="2.9" fill="#7d98cc" fill-opacity="0.3"/><rect x="154.61" y="589.25" width="0.9" height="1.25" fill="url(#gbB)"/><rect x="154.46" y="587.6" width="1.6" height="2.9" fill="#7d98cc" fill-opacity="0.3"/><rect x="155.95" y="588.80" width="0.9" height="1.70" fill="url(#gbB)"/><rect x="155.95" y="590.5" width="0.9" height="9.13" fill="url(#gy2)"/><rect x="155.80" y="587.6" width="1.6" height="2.9" fill="#7d98cc" fill-opacity="0.3"/><rect x="157.84" y="590.5" width="0.9" height="6.41" fill="url(#gy2)"/><rect x="157.69" y="587.6" width="1.6" height="2.9" fill="#7d98cc" fill-opacity="0.3"/><rect x="159.19" y="587.92" width="0.9" height="2.58" fill="url(#gbB)"/><rect x="159.19" y="590.5" width="0.9" height="1.01" fill="url(#gy2)"/><rect x="161.19" y="570.94" width="0.9" height="19.56" fill="url(#gbB)"/><rect x="161.19" y="590.5" width="0.9" height="8.59" fill="url(#gy2)"/><rect x="162.58" y="578.77" width="0.9" height="11.73" fill="url(#gbB)"/><rect x="162.58" y="590.5" width="0.9" height="4.94" fill="url(#gy2)"/><rect x="162.43" y="587.6" width="1.6" height="2.9" fill="#7d98cc" fill-opacity="0.3"/><rect x="163.89" y="561.50" width="0.9" height="29.00" fill="url(#gbB)"/><rect x="165.53" y="587.6" width="1.6" height="2.9" fill="#7d98cc" fill-opacity="0.3"/><rect x="167.65" y="586.31" width="0.9" height="4.19" fill="url(#gbB)"/><rect x="167.65" y="590.5" width="0.9" height="23.20" fill="url(#gy2)"/><rect x="167.50" y="587.6" width="1.6" height="2.9" fill="#7d98cc" fill-opacity="0.3"/><rect x="168.77" y="573.95" width="0.9" height="16.55" fill="url(#gbB)"/><rect x="168.77" y="590.5" width="0.9" height="21.86" fill="url(#gy2)"/><rect x="168.62" y="587.6" width="1.6" height="2.9" fill="#7d98cc" fill-opacity="0.3"/><rect x="169.96" y="577.37" width="0.9" height="13.13" fill="url(#gbB)"/><rect x="169.96" y="590.5" width="0.9" height="23.20" fill="url(#gy2)"/><rect x="171.64" y="587.18" width="0.9" height="3.32" fill="url(#gbB)"/><rect x="171.64" y="590.5" width="0.9" height="20.61" fill="url(#gy2)"/><rect x="173.50" y="590.5" width="0.9" height="13.18" fill="url(#gy2)"/><rect x="173.35" y="587.6" width="1.6" height="2.9" fill="#7d98cc" fill-opacity="0.3"/><rect x="175.45" y="573.20" width="0.9" height="17.30" fill="url(#gbB)"/><rect x="175.45" y="590.5" width="0.9" height="1.70" fill="url(#gy2)"/><rect x="176.64" y="569.90" width="0.9" height="20.60" fill="url(#gbB)"/><rect x="176.64" y="590.5" width="0.9" height="2.81" fill="url(#gy2)"/><rect x="178.00" y="582.13" width="0.9" height="8.37" fill="url(#gbB)"/><rect x="179.53" y="583.90" width="0.9" height="6.60" fill="url(#gbB)"/><rect x="179.53" y="590.5" width="0.9" height="23.20" fill="url(#gy2)"/><rect x="179.38" y="587.6" width="1.6" height="2.9" fill="#7d98cc" fill-opacity="0.3"/><rect x="181.40" y="585.33" width="0.9" height="5.17" fill="url(#gbB)"/><rect x="181.40" y="590.5" width="0.9" height="2.56" fill="url(#gy2)"/><rect x="182.63" y="579.96" width="0.9" height="10.54" fill="url(#gbB)"/><rect x="182.63" y="590.5" width="0.9" height="15.96" fill="url(#gy2)"/><rect x="184.60" y="573.42" width="0.9" height="17.08" fill="url(#gbB)"/><rect x="184.45" y="587.6" width="1.6" height="2.9" fill="#7d98cc" fill-opacity="0.3"/><rect x="186.06" y="585.68" width="0.9" height="4.82" fill="url(#gbB)"/><rect x="186.06" y="590.5" width="0.9" height="14.34" fill="url(#gy2)"/><rect x="185.91" y="587.6" width="1.6" height="2.9" fill="#7d98cc" fill-opacity="0.3"/><rect x="187.62" y="586.78" width="0.9" height="3.72" fill="url(#gbB)"/><rect x="187.47" y="587.6" width="1.6" height="2.9" fill="#7d98cc" fill-opacity="0.3"/><rect x="189.52" y="584.68" width="0.9" height="5.82" fill="url(#gbB)"/><rect x="191.49" y="590.5" width="0.9" height="1.72" fill="url(#gy2)"/><rect x="191.34" y="587.6" width="1.6" height="2.9" fill="#7d98cc" fill-opacity="0.3"/><rect x="192.73" y="579.59" width="0.9" height="10.91" fill="url(#gbB)"/><rect x="192.73" y="590.5" width="0.9" height="9.06" fill="url(#gy2)"/><rect x="192.58" y="587.6" width="1.6" height="2.9" fill="#7d98cc" fill-opacity="0.3"/><rect x="194.11" y="590.5" width="0.9" height="5.04" fill="url(#gy2)"/><rect x="195.48" y="578.08" width="0.9" height="12.42" fill="url(#gbB)"/><rect x="195.48" y="590.5" width="0.9" height="8.27" fill="url(#gy2)"/><rect x="196.56" y="590.5" width="0.9" height="1.22" fill="url(#gy2)"/><rect x="197.74" y="585.70" width="0.9" height="4.80" fill="url(#gbB)"/><rect x="197.74" y="590.5" width="0.9" height="17.64" fill="url(#gy2)"/><rect x="199.24" y="561.80" width="0.9" height="28.70" fill="url(#gbB)"/><rect x="199.24" y="590.5" width="0.9" height="23.20" fill="url(#gy2)"/><rect x="200.42" y="573.64" width="0.9" height="16.86" fill="url(#gbB)"/><rect x="200.42" y="590.5" width="0.9" height="12.96" fill="url(#gy2)"/><rect x="200.27" y="587.6" width="1.6" height="2.9" fill="#7d98cc" fill-opacity="0.3"/><rect x="202.34" y="587.56" width="0.9" height="2.94" fill="url(#gbB)"/><rect x="202.34" y="590.5" width="0.9" height="13.80" fill="url(#gy2)"/><rect x="202.19" y="587.6" width="1.6" height="2.9" fill="#7d98cc" fill-opacity="0.3"/><rect x="203.37" y="574.76" width="0.9" height="15.74" fill="url(#gbB)"/><rect x="203.37" y="590.5" width="0.9" height="23.20" fill="url(#gy2)"/><rect x="204.60" y="589.21" width="0.9" height="1.29" fill="url(#gbB)"/><rect x="204.60" y="590.5" width="0.9" height="5.75" fill="url(#gy2)"/><rect x="204.45" y="587.6" width="1.6" height="2.9" fill="#7d98cc" fill-opacity="0.3"/><rect x="206.50" y="566.88" width="0.9" height="23.62" fill="url(#gbB)"/><rect x="206.50" y="590.5" width="0.9" height="15.13" fill="url(#gy2)"/><rect x="207.95" y="581.57" width="0.9" height="8.93" fill="url(#gbB)"/><rect x="207.95" y="590.5" width="0.9" height="19.96" fill="url(#gy2)"/><rect x="209.23" y="581.68" width="0.9" height="8.82" fill="url(#gbB)"/><rect x="209.08" y="587.6" width="1.6" height="2.9" fill="#7d98cc" fill-opacity="0.3"/><rect x="210.72" y="572.90" width="0.9" height="17.60" fill="url(#gbB)"/><rect x="212.52" y="590.5" width="0.9" height="4.24" fill="url(#gy2)"/><rect x="212.37" y="587.6" width="1.6" height="2.9" fill="#7d98cc" fill-opacity="0.3"/><rect x="213.66" y="576.78" width="0.9" height="13.72" fill="url(#gbB)"/><rect x="213.66" y="590.5" width="0.9" height="7.12" fill="url(#gy2)"/><rect x="214.78" y="561.50" width="0.9" height="29.00" fill="url(#gbB)"/><rect x="214.78" y="590.5" width="0.9" height="15.22" fill="url(#gy2)"/><rect x="214.63" y="587.6" width="1.6" height="2.9" fill="#7d98cc" fill-opacity="0.3"/><rect x="216.10" y="590.5" width="0.9" height="20.51" fill="url(#gy2)"/><rect x="217.77" y="563.42" width="0.9" height="27.08" fill="url(#gbB)"/><rect x="217.62" y="587.6" width="1.6" height="2.9" fill="#7d98cc" fill-opacity="0.3"/><rect x="219.73" y="572.24" width="0.9" height="18.26" fill="url(#gbB)"/><rect x="219.73" y="590.5" width="0.9" height="5.26" fill="url(#gy2)"/>
<rect x="208.9" y="554.3" width="5.3" height="74" fill="#cf8e86" fill-opacity="0.78"/>
<rect x="209.5" y="572" width="4" height="18.5" fill="#8a6a98" fill-opacity="0.3"/>
<rect x="209.5" y="590.5" width="4" height="32" fill="#e0a050" fill-opacity="0.35"/>
<line x1="37" y1="638.5" x2="211" y2="638.5" stroke="#8e92c4" stroke-width="1.3"/>
<rect x="36.9" y="637" width="4.2" height="3" fill="#1f2560"/>
<rect x="41.8" y="636.8" width="1.1" height="3.4" fill="#3a3f80"/>
<rect x="46.4" y="636.8" width="1.1" height="3.4" fill="#3a3f80"/>
<rect x="56.9" y="636.8" width="1.1" height="3.4" fill="#3a3f80"/>
<rect x="63.0" y="636.8" width="1.1" height="3.4" fill="#3a3f80"/>
<rect x="72.3" y="636.8" width="1.1" height="3.4" fill="#3a3f80"/>
<rect x="105.7" y="636.8" width="1.1" height="3.4" fill="#3a3f80"/>
<rect x="107.5" y="636.8" width="1.1" height="3.4" fill="#3a3f80"/>
<path d="M211.8,636.8 L209.8,638.5 L211.8,640.2Z" fill="#3a3f80"/>
<text x="213.7" y="641.7" font-size="10.0" font-weight="bold" font-style="italic" text-anchor="start" fill="#1f2560" textLength="31.6" lengthAdjust="spacingAndGlyphs">FKBP5</text>
<line x1="211.3" y1="657.8" x2="211.3" y2="650.8" stroke="#23295e" stroke-width="1.1"/><path d="M209.10000000000002,650.3 L213.5,650.3 L211.3,645.3 Z" fill="#23295e"/>
<text x="211.6" y="666.7" font-size="9.2" font-weight="normal" font-style="normal" text-anchor="middle" fill="#2c3068" textLength="14.4" lengthAdjust="spacingAndGlyphs">TSS</text>
<path d="M298.8,218.4 H303.8 V281.3 H298.8" fill="none" stroke="#222" stroke-width="1.5"/><text x="293.8" y="221.0" font-size="8.8" font-weight="normal" font-style="normal" text-anchor="end" fill="#000" stroke="#000" stroke-width="0.25">10</text><line x1="298.8" y1="234.2" x2="303.8" y2="234.2" stroke="#222" stroke-width="1.5"/><text x="293.8" y="236.79999999999998" font-size="8.8" font-weight="normal" font-style="normal" text-anchor="end" fill="#000" stroke="#000" stroke-width="0.25">5</text><line x1="298.8" y1="250.0" x2="303.8" y2="250.0" stroke="#222" stroke-width="1.5"/><text x="293.8" y="252.6" font-size="8.8" font-weight="normal" font-style="normal" text-anchor="end" fill="#000" stroke="#000" stroke-width="0.25">0</text><line x1="298.8" y1="265.8" x2="303.8" y2="265.8" stroke="#222" stroke-width="1.5"/><text x="293.8" y="268.40000000000003" font-size="8.8" font-weight="normal" font-style="normal" text-anchor="end" fill="#000" stroke="#000" stroke-width="0.25">5</text><text x="293.8" y="284.20000000000005" font-size="8.8" font-weight="normal" font-style="normal" text-anchor="end" fill="#000" stroke="#000" stroke-width="0.25">10</text><text transform="translate(275.6,234.2) rotate(-90) scale(0.62,1)" font-size="11.8" text-anchor="middle" fill="#000" stroke="#000" stroke-width="0.5">Dex</text><text transform="translate(275.6,266.5) rotate(-90) scale(0.645,1)" font-size="11.8" text-anchor="middle" fill="#000" stroke="#000" stroke-width="0.5">DMSO</text>
<rect x="305.85" y="237.40" width="0.9" height="12.60" fill="url(#gbl)"/><rect x="308.65" y="243.70" width="0.9" height="6.30" fill="url(#gbl)"/><rect x="308.70" y="250" width="1.0" height="1.57" fill="#f0d060" fill-opacity="0.35"/><rect x="310.65" y="243.70" width="0.9" height="6.30" fill="url(#gbl)"/><rect x="312.05" y="243.70" width="0.9" height="6.30" fill="url(#gbl)"/><rect x="312.10" y="250" width="1.0" height="1.26" fill="#f0d060" fill-opacity="0.35"/><rect x="314.75" y="240.87" width="0.9" height="9.13" fill="url(#gbl)"/><rect x="317.55" y="219.13" width="0.9" height="30.87" fill="url(#gbl)"/><rect x="317.60" y="250" width="1.0" height="3.15" fill="#f0d060" fill-opacity="0.35"/><rect x="318.75" y="219.13" width="0.9" height="30.87" fill="url(#gbl)"/><rect x="319.95" y="219.13" width="0.9" height="30.87" fill="url(#gbl)"/><rect x="320.00" y="250" width="1.0" height="1.57" fill="#f0d060" fill-opacity="0.35"/><rect x="321.95" y="234.56" width="0.9" height="15.44" fill="url(#gbl)"/><rect x="323.35" y="232.68" width="0.9" height="17.32" fill="url(#gbl)"/><rect x="323.40" y="250" width="1.0" height="3.78" fill="#f0d060" fill-opacity="0.35"/><rect x="325.05" y="221.97" width="0.9" height="28.04" fill="url(#gbl)"/><rect x="325.10" y="250" width="1.0" height="4.72" fill="#f0d060" fill-opacity="0.35"/><rect x="326.05" y="228.26" width="0.9" height="21.73" fill="url(#gbl)"/><rect x="326.10" y="250" width="1.0" height="6.30" fill="#f0d060" fill-opacity="0.35"/><rect x="327.45" y="234.56" width="0.9" height="15.44" fill="url(#gbl)"/><rect x="327.50" y="250" width="1.0" height="3.15" fill="#f0d060" fill-opacity="0.35"/><rect x="329.15" y="234.56" width="0.9" height="15.44" fill="url(#gbl)"/><rect x="332.55" y="237.40" width="0.9" height="12.60" fill="url(#gbl)"/><rect x="332.60" y="250" width="1.0" height="2.52" fill="#f0d060" fill-opacity="0.35"/><rect x="334.35" y="244.33" width="0.9" height="5.67" fill="url(#gbl)"/><rect x="336.65" y="231.10" width="0.9" height="18.90" fill="url(#gbl)"/><rect x="336.70" y="250" width="1.0" height="3.15" fill="#f0d060" fill-opacity="0.35"/><rect x="338.95" y="240.87" width="0.9" height="9.13" fill="url(#gbl)"/><rect x="339.00" y="250" width="1.0" height="1.57" fill="#f0d060" fill-opacity="0.35"/><rect x="341.85" y="237.40" width="0.9" height="12.60" fill="url(#gbl)"/><rect x="341.90" y="250" width="1.0" height="3.15" fill="#f0d060" fill-opacity="0.35"/><rect x="344.15" y="240.87" width="0.9" height="9.13" fill="url(#gbl)"/><rect x="345.85" y="246.85" width="0.9" height="3.15" fill="url(#gbl)"/><rect x="347.55" y="246.85" width="0.9" height="3.15" fill="url(#gbl)"/><rect x="351.65" y="246.85" width="0.9" height="3.15" fill="url(#gbl)"/><rect x="351.70" y="250" width="1.0" height="1.26" fill="#f0d060" fill-opacity="0.35"/><rect x="355.65" y="243.70" width="0.9" height="6.30" fill="url(#gbl)"/><rect x="355.70" y="250" width="1.0" height="1.89" fill="#f0d060" fill-opacity="0.35"/><rect x="357.35" y="237.40" width="0.9" height="12.60" fill="url(#gbl)"/><rect x="359.05" y="246.85" width="0.9" height="3.15" fill="url(#gbl)"/><rect x="359.10" y="250" width="1.0" height="1.57" fill="#f0d060" fill-opacity="0.35"/><rect x="360.25" y="244.33" width="0.9" height="5.67" fill="url(#gbl)"/><rect x="361.95" y="234.56" width="0.9" height="15.44" fill="url(#gbl)"/><rect x="362.00" y="250" width="1.0" height="2.52" fill="#f0d060" fill-opacity="0.35"/><rect x="364.25" y="240.87" width="0.9" height="9.13" fill="url(#gbl)"/><rect x="364.30" y="250" width="1.0" height="1.89" fill="#f0d060" fill-opacity="0.35"/><rect x="368.85" y="237.40" width="0.9" height="12.60" fill="url(#gbl)"/><rect x="368.90" y="250" width="1.0" height="3.15" fill="#f0d060" fill-opacity="0.35"/><rect x="370.55" y="222.59" width="0.9" height="27.40" fill="url(#gbl)"/><rect x="370.60" y="250" width="1.0" height="4.72" fill="#f0d060" fill-opacity="0.35"/><rect x="371.75" y="231.73" width="0.9" height="18.27" fill="url(#gbl)"/><rect x="371.80" y="250" width="1.0" height="2.52" fill="#f0d060" fill-opacity="0.35"/><rect x="373.45" y="225.43" width="0.9" height="24.57" fill="url(#gbl)"/><rect x="373.50" y="250" width="1.0" height="3.78" fill="#f0d060" fill-opacity="0.35"/><rect x="375.25" y="228.26" width="0.9" height="21.73" fill="url(#gbl)"/><rect x="375.30" y="250" width="1.0" height="4.72" fill="#f0d060" fill-opacity="0.35"/><rect x="376.95" y="219.13" width="0.9" height="30.87" fill="url(#gbl)"/><rect x="377.00" y="250" width="1.0" height="6.30" fill="#f0d060" fill-opacity="0.35"/><rect x="378.05" y="220.07" width="0.9" height="29.93" fill="url(#gbl)"/><rect x="378.10" y="250" width="1.0" height="3.15" fill="#f0d060" fill-opacity="0.35"/><rect x="382.15" y="219.13" width="0.9" height="30.87" fill="url(#gbl)"/><rect x="382.20" y="250" width="1.0" height="3.15" fill="#f0d060" fill-opacity="0.35"/><rect x="383.85" y="220.70" width="0.9" height="29.30" fill="url(#gbl)"/><rect x="383.90" y="250" width="1.0" height="3.78" fill="#f0d060" fill-opacity="0.35"/><rect x="385.35" y="219.13" width="0.9" height="30.87" fill="url(#gbl)"/><rect x="385.40" y="250" width="1.0" height="2.52" fill="#f0d060" fill-opacity="0.35"/><rect x="386.75" y="231.10" width="0.9" height="18.90" fill="url(#gbl)"/><rect x="386.80" y="250" width="1.0" height="3.15" fill="#f0d060" fill-opacity="0.35"/><rect x="388.45" y="231.73" width="0.9" height="18.27" fill="url(#gbl)"/><rect x="388.50" y="250" width="1.0" height="1.89" fill="#f0d060" fill-opacity="0.35"/><rect x="389.65" y="237.40" width="0.9" height="12.60" fill="url(#gbl)"/><rect x="389.70" y="250" width="1.0" height="2.52" fill="#f0d060" fill-opacity="0.35"/><rect x="391.35" y="234.56" width="0.9" height="15.44" fill="url(#gbl)"/><rect x="391.40" y="250" width="1.0" height="1.57" fill="#f0d060" fill-opacity="0.35"/><rect x="392.55" y="237.40" width="0.9" height="12.60" fill="url(#gbl)"/><rect x="392.60" y="250" width="1.0" height="1.26" fill="#f0d060" fill-opacity="0.35"/><rect x="394.85" y="246.85" width="0.9" height="3.15" fill="url(#gbl)"/>
<rect x="305.5" y="246.8" width="11.0" height="3.2" fill="#7d98cc" fill-opacity="0.2"/>
<rect x="321.5" y="246.8" width="9.5" height="3.2" fill="#7d98cc" fill-opacity="0.2"/>
<rect x="332.5" y="246.8" width="17.5" height="3.2" fill="#7d98cc" fill-opacity="0.2"/>
<rect x="355.5" y="246.8" width="10.5" height="3.2" fill="#7d98cc" fill-opacity="0.2"/>
<rect x="368.5" y="246.8" width="27.5" height="3.2" fill="#7d98cc" fill-opacity="0.2"/>
<rect x="379.4" y="218.4" width="2.0" height="63" fill="#d27562" fill-opacity="0.95"/>
<text x="380.5" y="292.4" font-size="9.2" font-weight="normal" font-style="normal" text-anchor="middle" fill="#2c3068" textLength="14.9" lengthAdjust="spacingAndGlyphs">TSS</text>
<line x1="380.2" y1="295" x2="380.2" y2="302.59999999999997" stroke="#23295e" stroke-width="1.1"/><path d="M378.0,302.09999999999997 L382.4,302.09999999999997 L380.2,306.9 Z" fill="#23295e"/>
<rect x="374.6" y="313" width="3.5" height="3.2" fill="#1f2560"/><path d="M378.3,313.2 L380.3,314.6 L378.3,316Z" fill="#1f2560"/>
<text x="386" y="317" font-size="9.7" font-weight="bold" font-style="italic" text-anchor="start" fill="#1f2560" textLength="41.7" lengthAdjust="spacingAndGlyphs">TSC22D3</text>
<path d="M298.5,561.5 H303.5 V619.3 H298.5" fill="none" stroke="#222" stroke-width="1.5"/><text x="293.6" y="564.1" font-size="8.8" font-weight="normal" font-style="normal" text-anchor="end" fill="#000" stroke="#000" stroke-width="0.25">10</text><line x1="298.5" y1="576.0" x2="303.5" y2="576.0" stroke="#222" stroke-width="1.5"/><text x="293.6" y="578.6" font-size="8.8" font-weight="normal" font-style="normal" text-anchor="end" fill="#000" stroke="#000" stroke-width="0.25">5</text><line x1="298.5" y1="590.5" x2="303.5" y2="590.5" stroke="#222" stroke-width="1.5"/><text x="293.6" y="593.1" font-size="8.8" font-weight="normal" font-style="normal" text-anchor="end" fill="#000" stroke="#000" stroke-width="0.25">0</text><line x1="298.5" y1="605.0" x2="303.5" y2="605.0" stroke="#222" stroke-width="1.5"/><text x="293.6" y="607.6" font-size="8.8" font-weight="normal" font-style="normal" text-anchor="end" fill="#000" stroke="#000" stroke-width="0.25">5</text><text x="293.6" y="622.1" font-size="8.8" font-weight="normal" font-style="normal" text-anchor="end" fill="#000" stroke="#000" stroke-width="0.25">10</text><text transform="translate(275.6,575.5) rotate(-90) scale(0.62,1)" font-size="11.8" text-anchor="middle" fill="#000" stroke="#000" stroke-width="0.5">Dex</text><text transform="translate(275.6,604.5) rotate(-90) scale(0.645,1)" font-size="11.8" text-anchor="middle" fill="#000" stroke="#000" stroke-width="0.5">DMSO</text>
<rect x="321.30" y="572.23" width="1.0" height="18.27" fill="url(#gbl)"/><rect x="321.20" y="587.50" width="1.2" height="3" fill="#7d98cc" fill-opacity="0.45"/><rect x="321.30" y="590.5" width="1.0" height="9.57" fill="url(#gy2)"/><rect x="324.80" y="568.75" width="1.0" height="21.75" fill="url(#gbl)"/><rect x="324.70" y="587.50" width="1.2" height="3" fill="#7d98cc" fill-opacity="0.45"/><rect x="324.80" y="590.5" width="1.0" height="2.61" fill="url(#gy2)"/><rect x="327.50" y="575.71" width="1.0" height="14.79" fill="url(#gbl)"/><rect x="327.40" y="587.50" width="1.2" height="3" fill="#7d98cc" fill-opacity="0.45"/><rect x="327.50" y="590.5" width="1.0" height="9.57" fill="url(#gy2)"/><rect x="330.00" y="565.27" width="1.0" height="25.23" fill="url(#gbl)"/><rect x="329.90" y="587.50" width="1.2" height="3" fill="#7d98cc" fill-opacity="0.45"/><rect x="330.00" y="590.5" width="1.0" height="6.96" fill="url(#gy2)"/><rect x="331.70" y="582.67" width="1.0" height="7.83" fill="url(#gbl)"/><rect x="331.60" y="587.50" width="1.2" height="3" fill="#7d98cc" fill-opacity="0.45"/><rect x="331.70" y="590.5" width="1.0" height="9.57" fill="url(#gy2)"/><rect x="334.80" y="573.10" width="1.0" height="17.40" fill="url(#gbl)"/><rect x="334.70" y="587.50" width="1.2" height="3" fill="#7d98cc" fill-opacity="0.45"/><rect x="334.80" y="590.5" width="1.0" height="4.35" fill="url(#gy2)"/><rect x="338.30" y="580.06" width="1.0" height="10.44" fill="url(#gbl)"/><rect x="338.20" y="587.50" width="1.2" height="3" fill="#7d98cc" fill-opacity="0.45"/><rect x="338.30" y="590.5" width="1.0" height="2.90" fill="url(#gy2)"/><rect x="342.90" y="576.58" width="1.0" height="13.92" fill="url(#gbl)"/><rect x="342.80" y="587.50" width="1.2" height="3" fill="#7d98cc" fill-opacity="0.45"/><rect x="342.90" y="590.5" width="1.0" height="9.57" fill="url(#gy2)"/><rect x="348.10" y="580.06" width="1.0" height="10.44" fill="url(#gbl)"/><rect x="348.00" y="587.50" width="1.2" height="3" fill="#7d98cc" fill-opacity="0.45"/><rect x="352.10" y="580.06" width="1.0" height="10.44" fill="url(#gbl)"/><rect x="352.00" y="587.50" width="1.2" height="3" fill="#7d98cc" fill-opacity="0.45"/><rect x="352.10" y="590.5" width="1.0" height="9.57" fill="url(#gy2)"/><rect x="353.30" y="576.58" width="1.0" height="13.92" fill="url(#gbl)"/><rect x="353.20" y="587.50" width="1.2" height="3" fill="#7d98cc" fill-opacity="0.45"/><rect x="355.90" y="576.58" width="1.0" height="13.92" fill="url(#gbl)"/><rect x="355.80" y="587.50" width="1.2" height="3" fill="#7d98cc" fill-opacity="0.45"/><rect x="355.90" y="590.5" width="1.0" height="6.96" fill="url(#gy2)"/><rect x="357.60" y="583.54" width="1.0" height="6.96" fill="url(#gbl)"/><rect x="357.50" y="587.50" width="1.2" height="3" fill="#7d98cc" fill-opacity="0.45"/><rect x="361.60" y="583.54" width="1.0" height="6.96" fill="url(#gbl)"/><rect x="361.50" y="587.50" width="1.2" height="3" fill="#7d98cc" fill-opacity="0.45"/><rect x="366.30" y="576.58" width="1.0" height="13.92" fill="url(#gbl)"/><rect x="366.20" y="587.50" width="1.2" height="3" fill="#7d98cc" fill-opacity="0.45"/><rect x="366.30" y="590.5" width="1.0" height="9.57" fill="url(#gy2)"/><rect x="367.30" y="580.06" width="1.0" height="10.44" fill="url(#gbl)"/><rect x="367.20" y="587.50" width="1.2" height="3" fill="#7d98cc" fill-opacity="0.45"/><rect x="376.30" y="580.06" width="1.0" height="10.44" fill="url(#gbl)"/><rect x="376.20" y="587.50" width="1.2" height="3" fill="#7d98cc" fill-opacity="0.45"/><rect x="376.30" y="590.5" width="1.0" height="3.48" fill="url(#gy2)"/><rect x="378.90" y="583.54" width="1.0" height="6.96" fill="url(#gbl)"/><rect x="378.80" y="587.50" width="1.2" height="3" fill="#7d98cc" fill-opacity="0.45"/><rect x="378.90" y="590.5" width="1.0" height="5.22" fill="url(#gy2)"/><rect x="381.90" y="587.02" width="1.0" height="3.48" fill="url(#gbl)"/><rect x="381.80" y="587.50" width="1.2" height="3" fill="#7d98cc" fill-opacity="0.45"/><rect x="381.90" y="590.5" width="1.0" height="6.96" fill="url(#gy2)"/><rect x="388.40" y="587.02" width="1.0" height="3.48" fill="url(#gbl)"/><rect x="388.30" y="587.50" width="1.2" height="3" fill="#7d98cc" fill-opacity="0.45"/><rect x="388.40" y="590.5" width="1.0" height="6.96" fill="url(#gy2)"/><rect x="393.30" y="576.58" width="1.0" height="13.92" fill="url(#gbl)"/><rect x="393.20" y="587.50" width="1.2" height="3" fill="#7d98cc" fill-opacity="0.45"/><rect x="393.30" y="590.5" width="1.0" height="13.05" fill="url(#gy2)"/><rect x="398.50" y="587.02" width="1.0" height="3.48" fill="url(#gbl)"/><rect x="398.40" y="587.50" width="1.2" height="3" fill="#7d98cc" fill-opacity="0.45"/><rect x="406.00" y="583.54" width="1.0" height="6.96" fill="url(#gbl)"/><rect x="405.90" y="587.50" width="1.2" height="3" fill="#7d98cc" fill-opacity="0.45"/><rect x="406.00" y="590.5" width="1.0" height="3.19" fill="url(#gy2)"/><rect x="408.20" y="587.31" width="1.0" height="3.19" fill="url(#gbl)"/><rect x="408.10" y="587.50" width="1.2" height="3" fill="#7d98cc" fill-opacity="0.45"/><rect x="408.20" y="590.5" width="1.0" height="3.19" fill="url(#gy2)"/><rect x="411.30" y="587.31" width="1.0" height="3.19" fill="url(#gbl)"/><rect x="411.20" y="587.50" width="1.2" height="3" fill="#7d98cc" fill-opacity="0.45"/><rect x="411.30" y="590.5" width="1.0" height="6.38" fill="url(#gy2)"/><rect x="416.90" y="576.29" width="1.0" height="14.21" fill="url(#gbl)"/><rect x="416.80" y="587.50" width="1.2" height="3" fill="#7d98cc" fill-opacity="0.45"/><rect x="416.90" y="590.5" width="1.0" height="3.19" fill="url(#gy2)"/><rect x="423.70" y="587.31" width="1.0" height="3.19" fill="url(#gbl)"/><rect x="423.60" y="587.50" width="1.2" height="3" fill="#7d98cc" fill-opacity="0.45"/><rect x="425.50" y="583.54" width="1.0" height="6.96" fill="url(#gbl)"/><rect x="425.40" y="587.50" width="1.2" height="3" fill="#7d98cc" fill-opacity="0.45"/><rect x="427.70" y="583.54" width="1.0" height="6.96" fill="url(#gbl)"/><rect x="427.60" y="587.50" width="1.2" height="3" fill="#7d98cc" fill-opacity="0.45"/><rect x="440.70" y="583.54" width="1.0" height="6.96" fill="url(#gbl)"/><rect x="440.60" y="587.50" width="1.2" height="3" fill="#7d98cc" fill-opacity="0.45"/><rect x="440.70" y="590.5" width="1.0" height="3.19" fill="url(#gy2)"/><rect x="442.00" y="586.44" width="1.0" height="4.06" fill="url(#gbl)"/><rect x="441.90" y="587.50" width="1.2" height="3" fill="#7d98cc" fill-opacity="0.45"/><rect x="446.20" y="587.31" width="1.0" height="3.19" fill="url(#gbl)"/><rect x="446.10" y="587.50" width="1.2" height="3" fill="#7d98cc" fill-opacity="0.45"/><rect x="448.90" y="587.31" width="1.0" height="3.19" fill="url(#gbl)"/><rect x="448.80" y="587.50" width="1.2" height="3" fill="#7d98cc" fill-opacity="0.45"/><rect x="448.90" y="590.5" width="1.0" height="3.19" fill="url(#gy2)"/><rect x="451.10" y="583.54" width="1.0" height="6.96" fill="url(#gbl)"/><rect x="451.00" y="587.50" width="1.2" height="3" fill="#7d98cc" fill-opacity="0.45"/><rect x="451.10" y="590.5" width="1.0" height="3.19" fill="url(#gy2)"/><rect x="457.00" y="580.06" width="1.0" height="10.44" fill="url(#gbl)"/><rect x="456.90" y="587.50" width="1.2" height="3" fill="#7d98cc" fill-opacity="0.45"/><rect x="457.00" y="590.5" width="1.0" height="3.19" fill="url(#gy2)"/><rect x="461.70" y="583.54" width="1.0" height="6.96" fill="url(#gbl)"/><rect x="461.60" y="587.50" width="1.2" height="3" fill="#7d98cc" fill-opacity="0.45"/><rect x="461.70" y="590.5" width="1.0" height="3.19" fill="url(#gy2)"/><rect x="467.90" y="580.06" width="1.0" height="10.44" fill="url(#gbl)"/><rect x="467.80" y="587.50" width="1.2" height="3" fill="#7d98cc" fill-opacity="0.45"/><rect x="467.90" y="590.5" width="1.0" height="17.40" fill="url(#gy2)"/><rect x="471.60" y="573.68" width="1.0" height="16.82" fill="url(#gbl)"/><rect x="471.50" y="587.50" width="1.2" height="3" fill="#7d98cc" fill-opacity="0.45"/><rect x="471.60" y="590.5" width="1.0" height="3.19" fill="url(#gy2)"/><rect x="474.00" y="566.14" width="1.0" height="24.36" fill="url(#gbl)"/><rect x="473.90" y="587.50" width="1.2" height="3" fill="#7d98cc" fill-opacity="0.45"/><rect x="474.00" y="590.5" width="1.0" height="6.38" fill="url(#gy2)"/><rect x="477.60" y="583.54" width="1.0" height="6.96" fill="url(#gbl)"/><rect x="477.50" y="587.50" width="1.2" height="3" fill="#7d98cc" fill-opacity="0.45"/><rect x="477.60" y="590.5" width="1.0" height="6.38" fill="url(#gy2)"/><rect x="479.80" y="576.29" width="1.0" height="14.21" fill="url(#gbl)"/><rect x="479.70" y="587.50" width="1.2" height="3" fill="#7d98cc" fill-opacity="0.45"/><rect x="479.80" y="590.5" width="1.0" height="13.63" fill="url(#gy2)"/><rect x="482.20" y="587.31" width="1.0" height="3.19" fill="url(#gbl)"/><rect x="482.10" y="587.50" width="1.2" height="3" fill="#7d98cc" fill-opacity="0.45"/><rect x="482.20" y="590.5" width="1.0" height="3.19" fill="url(#gy2)"/><rect x="494.10" y="583.54" width="1.0" height="6.96" fill="url(#gbl)"/><rect x="494.00" y="587.50" width="1.2" height="3" fill="#7d98cc" fill-opacity="0.45"/>
<rect x="303" y="556.2" width="17.8" height="69.3" fill="#d6a8ac" fill-opacity="0.8"/>
<rect x="308.3" y="556.2" width="1.6" height="34.3" fill="#8a86b8" fill-opacity="0.35"/>
<rect x="311.3" y="556.2" width="1.6" height="34.3" fill="#8a86b8" fill-opacity="0.35"/>
<rect x="304.5" y="587.5" width="10" height="3" fill="#8a86b8" fill-opacity="0.3"/>
<rect x="307.5" y="590.5" width="1.5" height="35" fill="#e4a84a" fill-opacity="0.3"/>
<rect x="311" y="590.5" width="1.5" height="35" fill="#e4a84a" fill-opacity="0.3"/>
<line x1="310" y1="638.8" x2="497" y2="638.8" stroke="#9a9dca" stroke-width="1.5"/>
<path d="M309.5,638.8 L312,636.8 L312,640.8Z" fill="#1f2560"/>
<rect x="321" y="636.5" width="1" height="4.4" fill="#3a3f80"/><rect x="434.6" y="636.5" width="1" height="4.4" fill="#3a3f80"/>
<rect x="496" y="637.3" width="10.3" height="3.2" fill="#1f2560"/>
<text x="268.3" y="641.6" font-size="10.0" font-weight="bold" font-style="italic" text-anchor="start" fill="#1f2560" textLength="40" lengthAdjust="spacingAndGlyphs">BCL2L11</text>
<line x1="311.3" y1="656.5" x2="311.3" y2="650.7" stroke="#23295e" stroke-width="1.1"/><path d="M309.1,650.2 L313.5,650.2 L311.3,645.2 Z" fill="#23295e"/>
<text x="311.5" y="665.8" font-size="9.2" font-weight="normal" font-style="normal" text-anchor="middle" fill="#2c3068" textLength="14.3" lengthAdjust="spacingAndGlyphs">TSS</text>
<defs><linearGradient id="eGR" x1="0" y1="0" x2="0" y2="1"><stop offset="0" stop-color="#c42a2c"/><stop offset="1" stop-color="#9c1e22"/></linearGradient><linearGradient id="eMed" x1="0" y1="0" x2="1" y2="1"><stop offset="0" stop-color="#a52a78"/><stop offset="1" stop-color="#861a5a"/></linearGradient><linearGradient id="eCo" x1="0" y1="0" x2="1" y2="1"><stop offset="0" stop-color="#e08a2a"/><stop offset="1" stop-color="#eaa63a"/></linearGradient><linearGradient id="eES" x1="0" y1="0" x2="1" y2="1"><stop offset="0" stop-color="#3c6fb8"/><stop offset="1" stop-color="#5a90d0"/></linearGradient><linearGradient id="eTF" x1="0" y1="0" x2="0" y2="1"><stop offset="0" stop-color="#e28ac0"/><stop offset="1" stop-color="#c9509a"/></linearGradient><linearGradient id="ePol" x1="0" y1="0" x2="0" y2="1"><stop offset="0" stop-color="#8ccc5a"/><stop offset="1" stop-color="#5aa63a"/></linearGradient><linearGradient id="eIn" x1="0" y1="0" x2="1" y2="1"><stop offset="0" stop-color="#2e7a6e"/><stop offset="1" stop-color="#3f9080"/></linearGradient></defs>
<text x="11.3" y="706" font-size="15.5" font-weight="bold" font-style="normal" text-anchor="start" fill="#000" stroke="#000" stroke-width="0.5">E</text>
<text x="57.5" y="757.5" font-size="9.2" font-weight="normal" font-style="normal" text-anchor="start" fill="#000" stroke="#000" stroke-width="0.2">3&#8217;</text>
<text x="57.5" y="805.9" font-size="9.2" font-weight="normal" font-style="normal" text-anchor="start" fill="#000" stroke="#000" stroke-width="0.2">5&#8217;</text>
<path d="M72.9,756.5 Q120,761 160,768.5" fill="none" stroke="#cc2424" stroke-width="2.2"/>
<path d="M71,801.8 Q110,795.5 160,794" fill="none" stroke="#4caa3c" stroke-width="2.2"/>
<line x1="100.5" y1="739.5" x2="105" y2="748" stroke="#1e1e3a" stroke-width="1.1"/><ellipse cx="100.5" cy="739.5" rx="5.2" ry="3.8" transform="rotate(10 100.5 739.5)" fill="#7b58a8" stroke="#2a2050" stroke-width="0.8"/>
<line x1="89" y1="747" x2="100" y2="754" stroke="#1e1e3a" stroke-width="1.1"/><ellipse cx="89" cy="747" rx="5.2" ry="3.8" transform="rotate(10 89 747)" fill="#7b58a8" stroke="#2a2050" stroke-width="0.8"/>
<g transform="translate(106.5,753.3) rotate(22)"><rect x="-10.25" y="-5.25" width="20.5" height="10.5" rx="3.5" fill="#86cad8"/><path d="M-1.0250000000000001,-5.25 H6.75 Q10.25,-5.25 10.25,-1.75 V1.75 Q10.25,5.25 6.75,5.25 H-1.0250000000000001 Z" fill="#62aec6"/><path d="M-2.7,-4.95 Q-0.30000000000000004,0 -2.7,4.95" fill="none" stroke="#25507c" stroke-width="1.0"/><path d="M1.3,-4.95 Q3.7,0 1.3,4.95" fill="none" stroke="#25507c" stroke-width="1.0"/><path d="M5.3,-4.95 Q7.7,0 5.3,4.95" fill="none" stroke="#25507c" stroke-width="1.0"/></g>
<line x1="108.8" y1="771.8" x2="121" y2="769.5" stroke="#1e1e3a" stroke-width="1.1"/><ellipse cx="108.8" cy="771.8" rx="5.2" ry="3.8" transform="rotate(5 108.8 771.8)" fill="#7b58a8" stroke="#2a2050" stroke-width="0.8"/>
<line x1="116.3" y1="782.8" x2="123" y2="777" stroke="#1e1e3a" stroke-width="1.1"/><ellipse cx="116.3" cy="782.8" rx="5.2" ry="3.8" transform="rotate(5 116.3 782.8)" fill="#7b58a8" stroke="#2a2050" stroke-width="0.8"/>
<g transform="translate(127.7,772.8) rotate(30)"><rect x="-10.25" y="-5.25" width="20.5" height="10.5" rx="3.5" fill="#86cad8"/><path d="M-1.0250000000000001,-5.25 H6.75 Q10.25,-5.25 10.25,-1.75 V1.75 Q10.25,5.25 6.75,5.25 H-1.0250000000000001 Z" fill="#62aec6"/><path d="M-2.7,-4.95 Q-0.30000000000000004,0 -2.7,4.95" fill="none" stroke="#25507c" stroke-width="1.0"/><path d="M1.3,-4.95 Q3.7,0 1.3,4.95" fill="none" stroke="#25507c" stroke-width="1.0"/><path d="M5.3,-4.95 Q7.7,0 5.3,4.95" fill="none" stroke="#25507c" stroke-width="1.0"/></g>
<line x1="108.2" y1="812" x2="96" y2="808" stroke="#1e1e3a" stroke-width="1.1"/><ellipse cx="108.2" cy="812" rx="5.2" ry="3.8" transform="rotate(15 108.2 812)" fill="#7b58a8" stroke="#2a2050" stroke-width="0.8"/>
<line x1="98" y1="819.8" x2="95" y2="812" stroke="#1e1e3a" stroke-width="1.1"/><ellipse cx="98" cy="819.8" rx="5.2" ry="3.8" transform="rotate(15 98 819.8)" fill="#7b58a8" stroke="#2a2050" stroke-width="0.8"/>
<g transform="translate(90.2,807.8) rotate(30)"><rect x="-10.25" y="-5.25" width="20.5" height="10.5" rx="3.5" fill="#86cad8"/><path d="M-1.0250000000000001,-5.25 H6.75 Q10.25,-5.25 10.25,-1.75 V1.75 Q10.25,5.25 6.75,5.25 H-1.0250000000000001 Z" fill="#62aec6"/><path d="M-2.7,-4.95 Q-0.30000000000000004,0 -2.7,4.95" fill="none" stroke="#25507c" stroke-width="1.0"/><path d="M1.3,-4.95 Q3.7,0 1.3,4.95" fill="none" stroke="#25507c" stroke-width="1.0"/><path d="M5.3,-4.95 Q7.7,0 5.3,4.95" fill="none" stroke="#25507c" stroke-width="1.0"/></g>
<line x1="125.6" y1="816.3" x2="128" y2="805" stroke="#1e1e3a" stroke-width="1.1"/><ellipse cx="125.6" cy="816.3" rx="5.2" ry="3.8" transform="rotate(80 125.6 816.3)" fill="#7b58a8" stroke="#2a2050" stroke-width="0.8"/>
<line x1="139.3" y1="819.4" x2="137" y2="806" stroke="#1e1e3a" stroke-width="1.1"/><ellipse cx="139.3" cy="819.4" rx="5.2" ry="3.8" transform="rotate(80 139.3 819.4)" fill="#7b58a8" stroke="#2a2050" stroke-width="0.8"/>
<g transform="translate(135.1,804.1) rotate(18)"><rect x="-10.25" y="-5.25" width="20.5" height="10.5" rx="3.5" fill="#86cad8"/><path d="M-1.0250000000000001,-5.25 H6.75 Q10.25,-5.25 10.25,-1.75 V1.75 Q10.25,5.25 6.75,5.25 H-1.0250000000000001 Z" fill="#62aec6"/><path d="M-2.7,-4.95 Q-0.30000000000000004,0 -2.7,4.95" fill="none" stroke="#25507c" stroke-width="1.0"/><path d="M1.3,-4.95 Q3.7,0 1.3,4.95" fill="none" stroke="#25507c" stroke-width="1.0"/><path d="M5.3,-4.95 Q7.7,0 5.3,4.95" fill="none" stroke="#25507c" stroke-width="1.0"/></g>
<path d="M282,761.5 L313.5,754.2" fill="none" stroke="#cc2424" stroke-width="2.2"/>
<path d="M274.8,799.5 C285,792 302,789 314,799 C326,810 336,823 356,823 C384,823 398,804 398,782 C398,758 380,739 359,739 C350,739 342,742 334,747" fill="none" stroke="#000" stroke-width="2.8"/>
<line x1="303.3" y1="739.4" x2="313" y2="748" stroke="#1e1e3a" stroke-width="1.1"/><ellipse cx="303.3" cy="739.4" rx="5.2" ry="3.8" transform="rotate(10 303.3 739.4)" fill="#7b58a8" stroke="#2a2050" stroke-width="0.8"/>
<line x1="316.3" y1="734.2" x2="319" y2="744" stroke="#1e1e3a" stroke-width="1.1"/><ellipse cx="316.3" cy="734.2" rx="5.2" ry="3.8" transform="rotate(10 316.3 734.2)" fill="#7b58a8" stroke="#2a2050" stroke-width="0.8"/>
<line x1="346.9" y1="755.9" x2="335" y2="752" stroke="#1e1e3a" stroke-width="1.1"/><ellipse cx="346.9" cy="755.9" rx="5.2" ry="3.8" transform="rotate(10 346.9 755.9)" fill="#7b58a8" stroke="#2a2050" stroke-width="0.8"/>
<line x1="337.4" y1="765.4" x2="332" y2="757" stroke="#1e1e3a" stroke-width="1.1"/><ellipse cx="337.4" cy="765.4" rx="5.2" ry="3.8" transform="rotate(10 337.4 765.4)" fill="#7b58a8" stroke="#2a2050" stroke-width="0.8"/>
<g transform="translate(323,751.5) rotate(20)"><rect x="-16" y="-7.5" width="17" height="15" rx="4.5" fill="#7cc6d6"/><rect x="0" y="-7.5" width="16" height="15" rx="4.5" fill="#6ab8cc"/><rect x="-6" y="-7" width="12" height="14" fill="#4e98b4"/><path d="M-8,-7 Q-4,0 -8,7 M-4,-7 Q0,0 -4,7 M1,-7 Q5,0 1,7 M5,-7 Q9,0 5,7" fill="none" stroke="#1f4f7a" stroke-width="1.1"/></g>
<ellipse cx="262.6" cy="752.6" rx="25.7" ry="14.9" transform="rotate(-4 262.6 752.6)" fill="url(#eES)" stroke="#2a2424" stroke-width="1.0"/>
<ellipse cx="249.8" cy="799.2" rx="25" ry="21.2" transform="rotate(0 249.8 799.2)" fill="url(#eIn)" stroke="#2a2424" stroke-width="1.0"/>
<ellipse cx="177.5" cy="740" rx="13.3" ry="20.3" transform="rotate(0 177.5 740)" fill="url(#eGR)" stroke="#2a2424" stroke-width="1.0"/>
<ellipse cx="176.9" cy="717.7" rx="7.7" ry="6.5" transform="rotate(0 176.9 717.7)" fill="#d8772c" stroke="#2a2424" stroke-width="1.0"/>
<ellipse cx="204.6" cy="744.5" rx="13.9" ry="20.3" transform="rotate(0 204.6 744.5)" fill="url(#eGR)" stroke="#2a2424" stroke-width="1.0"/>
<ellipse cx="204.2" cy="722.8" rx="8" ry="6.8" transform="rotate(0 204.2 722.8)" fill="#d8772c" stroke="#2a2424" stroke-width="1.0"/>
<ellipse cx="205.8" cy="805" rx="18.4" ry="22.3" transform="rotate(0 205.8 805)" fill="url(#ePol)" stroke="#2a2424" stroke-width="1.0"/>
<ellipse cx="171.8" cy="802.7" rx="16" ry="23.9" transform="rotate(0 171.8 802.7)" fill="url(#eTF)" stroke="#2a2424" stroke-width="1.0"/>
<ellipse cx="179.2" cy="773.1" rx="23.8" ry="15" transform="rotate(4 179.2 773.1)" fill="url(#eMed)" stroke="#2a2424" stroke-width="1.0"/>
<ellipse cx="225.6" cy="771.7" rx="25.2" ry="15.7" transform="rotate(-6 225.6 771.7)" fill="url(#eCo)" stroke="#2a2424" stroke-width="1.0"/>
<text x="176" y="745.3" font-size="9.2" font-weight="normal" font-style="normal" text-anchor="middle" fill="#1a1a1a" stroke="#111" stroke-width="0.32">GR</text>
<text x="203" y="751.2" font-size="9.2" font-weight="normal" font-style="normal" text-anchor="middle" fill="#1a1a1a" stroke="#111" stroke-width="0.32">GR</text>
<text x="179.5" y="775.8" font-size="9.0" font-weight="normal" font-style="normal" text-anchor="middle" fill="#1a1a1a" stroke="#111" stroke-width="0.32">Mediator</text>
<text x="225.2" y="775.8" font-size="9.0" font-weight="normal" font-style="normal" text-anchor="middle" fill="#1a1a1a" stroke="#111" stroke-width="0.32">Co-Factor</text>
<text x="262" y="756" font-size="9.3" font-weight="normal" font-style="normal" text-anchor="middle" fill="#1a1a1a" stroke="#111" stroke-width="0.32">ESRRB</text>
<text x="170.4" y="803.9" font-size="9.2" font-weight="normal" font-style="normal" text-anchor="middle" fill="#1a1a1a" stroke="#111" stroke-width="0.32">TF</text>
<text x="203.9" y="799.9" font-size="9.2" font-weight="normal" font-style="normal" text-anchor="middle" fill="#1a1a1a" stroke="#111" stroke-width="0.32">POL</text>
<text x="202.8" y="811.2" font-size="9.2" font-weight="normal" font-style="normal" text-anchor="middle" fill="#1a1a1a" stroke="#111" stroke-width="0.32">II</text>
<text x="249" y="798.8" font-size="9.0" font-weight="normal" font-style="normal" text-anchor="middle" fill="#1a1a1a" stroke="#111" stroke-width="0.32">Initiation</text>
<text x="249.3" y="808.6" font-size="9.0" font-weight="normal" font-style="normal" text-anchor="middle" fill="#1a1a1a" stroke="#111" stroke-width="0.32">Complex</text>
<path d="M275.9,798.7 V782.6 H298" fill="none" stroke="#2f6f30" stroke-width="2.3"/>
<path d="M297,777.9 L307.7,782.6 L297,787.4Z" fill="#2f6f30"/>
<text x="312.3" y="786" font-size="9.4" font-weight="normal" font-style="italic" text-anchor="start" fill="#222" stroke="#222" stroke-width="0.25">BCL2L11</text>
<rect x="405" y="819.5" width="22.5" height="4.8" fill="#5ab04a"/>
<rect x="405" y="835" width="22.5" height="4.8" fill="#cc2a2a"/>
<text x="432.3" y="824.5" font-size="9.1" font-weight="normal" font-style="normal" text-anchor="start" fill="#000" stroke="#000" stroke-width="0.2">:Promoter</text>
<text x="432.3" y="840" font-size="9.1" font-weight="normal" font-style="normal" text-anchor="start" fill="#000" stroke="#000" stroke-width="0.2">:Enhancer</text>
<text x="432.3" y="858.8" font-size="9.1" font-weight="normal" font-style="normal" text-anchor="start" fill="#000" stroke="#000" stroke-width="0.2">:H3K27Ac</text>
<line x1="416" y1="851" x2="418.3" y2="860" stroke="#1e1e3a" stroke-width="1.2"/>
<ellipse cx="415.5" cy="850.5" rx="5" ry="3.6" transform="rotate(25 415.5 850.5)" fill="#7b58a8" stroke="#2a2050" stroke-width="0.8"/>
</svg></body></html>
